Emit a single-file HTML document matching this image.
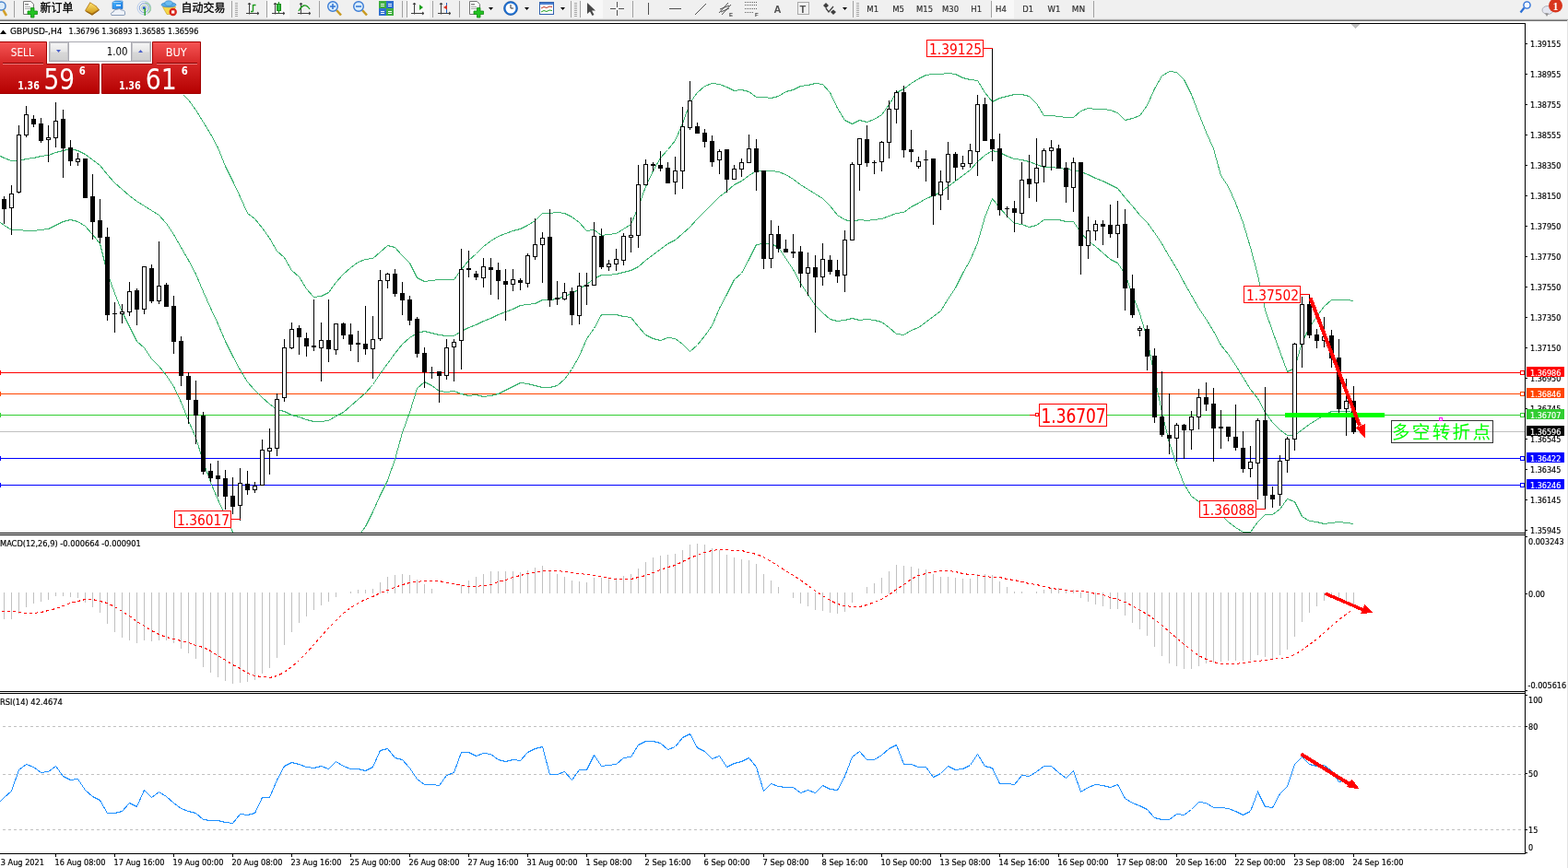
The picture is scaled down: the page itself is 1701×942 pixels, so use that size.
<!DOCTYPE html>
<html><head><meta charset="utf-8"><title>GBPUSD-,H4</title>
<style>
html,body{margin:0;padding:0;background:#fff;}
body{width:1701px;height:942px;overflow:hidden;position:relative;}
svg{position:absolute;left:0;top:0;display:block;}

</style></head><body>
<svg width="1701" height="942" viewBox="0 0 1701 942" font-family='"Liberation Sans", "Noto Sans CJK SC", sans-serif'>
<rect x="0" y="0" width="1701" height="942" fill="#fff"/>
<rect x="0" y="0" width="1701" height="20" fill="#f0f0f0"/><rect x="0" y="20" width="1701" height="1" fill="#e4e4e4"/><rect x="0" y="21" width="1701" height="1" fill="#a3a3a3"/><rect x="0" y="22" width="1701" height="1" fill="#6f6f6f"/><rect x="290" y="0" width="24" height="20" fill="#f8f8f8"/><rect x="441" y="0" width="25" height="20" fill="#f8f8f8"/><rect x="630" y="0" width="24" height="20" fill="#f8f8f8"/><rect x="1076" y="0" width="24" height="20" fill="#f8f8f8"/><rect x="15" y="1" width="1" height="18" fill="#a0a0a0"/><rect x="251" y="1" width="1" height="18" fill="#a0a0a0"/><rect x="289" y="1" width="1" height="18" fill="#a0a0a0"/><rect x="346" y="1" width="1" height="18" fill="#a0a0a0"/><rect x="436" y="1" width="1" height="18" fill="#a0a0a0"/><rect x="441" y="1" width="1" height="18" fill="#a0a0a0"/><rect x="469" y="1" width="1" height="18" fill="#a0a0a0"/><rect x="498" y="1" width="1" height="18" fill="#a0a0a0"/><rect x="619" y="1" width="1" height="18" fill="#a0a0a0"/><rect x="629" y="1" width="1" height="18" fill="#a0a0a0"/><rect x="686" y="1" width="1" height="18" fill="#a0a0a0"/><rect x="925" y="1" width="1" height="18" fill="#a0a0a0"/><rect x="1075" y="1" width="1" height="18" fill="#a0a0a0"/><rect x="1186" y="1" width="1" height="18" fill="#a0a0a0"/><rect x="255" y="3" width="3" height="1" fill="#a8a8a8"/><rect x="255" y="5" width="3" height="1" fill="#a8a8a8"/><rect x="255" y="7" width="3" height="1" fill="#a8a8a8"/><rect x="255" y="9" width="3" height="1" fill="#a8a8a8"/><rect x="255" y="11" width="3" height="1" fill="#a8a8a8"/><rect x="255" y="13" width="3" height="1" fill="#a8a8a8"/><rect x="255" y="15" width="3" height="1" fill="#a8a8a8"/><rect x="255" y="17" width="3" height="1" fill="#a8a8a8"/><rect x="623" y="3" width="3" height="1" fill="#a8a8a8"/><rect x="623" y="5" width="3" height="1" fill="#a8a8a8"/><rect x="623" y="7" width="3" height="1" fill="#a8a8a8"/><rect x="623" y="9" width="3" height="1" fill="#a8a8a8"/><rect x="623" y="11" width="3" height="1" fill="#a8a8a8"/><rect x="623" y="13" width="3" height="1" fill="#a8a8a8"/><rect x="623" y="15" width="3" height="1" fill="#a8a8a8"/><rect x="623" y="17" width="3" height="1" fill="#a8a8a8"/><rect x="929" y="3" width="3" height="1" fill="#a8a8a8"/><rect x="929" y="5" width="3" height="1" fill="#a8a8a8"/><rect x="929" y="7" width="3" height="1" fill="#a8a8a8"/><rect x="929" y="9" width="3" height="1" fill="#a8a8a8"/><rect x="929" y="11" width="3" height="1" fill="#a8a8a8"/><rect x="929" y="13" width="3" height="1" fill="#a8a8a8"/><rect x="929" y="15" width="3" height="1" fill="#a8a8a8"/><rect x="929" y="17" width="3" height="1" fill="#a8a8a8"/><circle cx="1.5" cy="6.5" r="4.5" fill="#dcecf9" stroke="#4a86cf" stroke-width="1.5"/><line x1="3.5" y1="11" x2="7" y2="17" stroke="#d2a02a" stroke-width="2.5"/><path d="M25.5 1.5 h8 l3 3 v11 h-11 z" fill="#fff" stroke="#777"/><rect x="27" y="4" width="4" height="1.5" fill="#888"/><rect x="27" y="7" width="6" height="1" fill="#aaa"/><rect x="27" y="9" width="6" height="1" fill="#aaa"/><path d="M33.5 8.5 h3.5 v3.5 h3.5 v3.5 h-3.5 v3.5 h-3.5 v-3.5 h-3.5 v-3.5 h3.5 z" fill="#22c322" stroke="#138a13" stroke-width="0.8"/><text x="43.5" y="12.5" font-family='"Noto Sans CJK SC", "WenQuanYi Zen Hei", sans-serif' font-size="12" fill="#000" stroke="#000" stroke-width="0.3">新订单</text><defs><linearGradient id="gold" x1="0" y1="0" x2="0" y2="1"><stop offset="0" stop-color="#ffe070"/><stop offset="1" stop-color="#d09a18"/></linearGradient><linearGradient id="blu" x1="0" y1="0" x2="1" y2="1"><stop offset="0" stop-color="#49b8ff"/><stop offset="1" stop-color="#1a78e0"/></linearGradient></defs><polygon points="92.2,11.3 97.6,2.2 104.4,6.5 108,10.7 100,16.8 92.8,12.6" fill="#b07818" /><polygon points="93.2,10.8 98,3.2 104,7 106.5,10.3 99.8,14.6 93.6,11.8" fill="url(#gold)"/><path d="M94 12.5 L100 16 L107.5 11" stroke="#8a5a10" stroke-width="0.8" fill="none"/><polygon points="122,2.5 125,1 133,1 133,9.5 122,9.5" fill="url(#blu)" stroke="#1565c0" stroke-width="0.6"/><rect x="126" y="5" width="5" height="1.6" fill="#e6f4ff"/><path d="M122.5 2.5 h8 l2.5 -1.5" stroke="#bfe4ff" stroke-width="0.7" fill="none"/><path d="M121 16.5 Q119.5 13.5 123 13 Q123.5 9.8 127 10.2 Q129.5 8.5 132 11 Q135.8 11 135.5 14 Q136.5 16.5 134 16.5 Z" fill="#eef2f8" stroke="#6f86a8" stroke-width="0.8"/><circle cx="156.3" cy="8.6" r="7.3" fill="none" stroke="#b8cdec" stroke-width="1"/><circle cx="156.3" cy="8.6" r="5" fill="none" stroke="#7fa0dc" stroke-width="1"/><circle cx="156.3" cy="8.6" r="2.8" fill="none" stroke="#9dc8a0" stroke-width="0.8"/><path d="M157.3 3 A6 6 0 0 1 160.5 14" stroke="#8cc890" stroke-width="1.2" fill="none"/><circle cx="156.3" cy="8.6" r="1.6" fill="#2a5fc8"/><rect x="156.5" y="9" width="1.4" height="7.8" fill="#1e9e1e"/><polygon points="176.5,7.5 190.5,7.5 186,15.5 181,15.5" fill="#f6d84a" stroke="#c49a18" stroke-width="0.6"/><ellipse cx="183" cy="5.2" rx="8" ry="2.6" fill="#58aee8" stroke="#2f7cc0" stroke-width="0.6"/><ellipse cx="183" cy="3.6" rx="4.2" ry="2.8" fill="#6cbcf0" stroke="#2f7cc0" stroke-width="0.6"/><circle cx="187.7" cy="13" r="4.2" fill="#d8261c"/><rect x="186.1" y="11.4" width="3.2" height="3.2" fill="#fff"/><text x="196.5" y="12.5" font-family='"Noto Sans CJK SC", "WenQuanYi Zen Hei", sans-serif' font-size="12" fill="#000" stroke="#000" stroke-width="0.3">自动交易</text><path d="M270.5 3 v12.5 M267 14.5 h14" stroke="#404040" stroke-width="1" fill="none"/><path d="M269 5 l1.5 -2 l1.5 2 M279 13 l2 1.5 l-2 1.5" stroke="#404040" fill="none"/><path d="M272 12.5 h2.5 M274.5 12.5 V5 M274.5 5.5 h3" stroke="#1a9a1a" stroke-width="1.4" fill="none"/><path d="M298.5 3 v12.5 M295 14.5 h14" stroke="#404040" stroke-width="1" fill="none"/><path d="M297 5 l1.5 -2 l1.5 2 M307 13 l2 1.5 l-2 1.5" stroke="#404040" fill="none"/><rect x="300.5" y="4.5" width="4" height="7" fill="#30c040" stroke="#148a14"/><path d="M302.5 2 v2 M302.5 12 v2" stroke="#148a14"/><path d="M326.5 3 v12.5 M323 14.5 h14" stroke="#404040" stroke-width="1" fill="none"/><path d="M325 5 l1.5 -2 l1.5 2 M335 13 l2 1.5 l-2 1.5" stroke="#404040" fill="none"/><path d="M324 12 Q330 1 336 10" stroke="#1a9a1a" stroke-width="1.3" fill="none"/><line x1="365" y1="11" x2="370" y2="16.5" stroke="#c89a22" stroke-width="2.6"/><circle cx="361" cy="7" r="5.3" fill="#dbeefc" stroke="#3a7bd5" stroke-width="1.4"/><rect x="358" y="6.2" width="6" height="1.6" fill="#3a7bd5"/><rect x="360.2" y="4" width="1.6" height="6" fill="#3a7bd5"/><line x1="393" y1="11" x2="398" y2="16.5" stroke="#c89a22" stroke-width="2.6"/><circle cx="389" cy="7" r="5.3" fill="#dbeefc" stroke="#3a7bd5" stroke-width="1.4"/><rect x="386" y="6.2" width="6" height="1.6" fill="#3a7bd5"/><rect x="411" y="1" width="8" height="8" fill="#3fae3f"/><rect x="413" y="4" width="4" height="1" fill="#fff"/><rect x="413" y="6" width="4" height="1" fill="#fff"/><rect x="419" y="1" width="8" height="8" fill="#2f6fd0"/><rect x="421" y="4" width="4" height="1" fill="#fff"/><rect x="421" y="6" width="4" height="1" fill="#fff"/><rect x="411" y="9" width="8" height="8" fill="#2f6fd0"/><rect x="413" y="12" width="4" height="1" fill="#fff"/><rect x="413" y="14" width="4" height="1" fill="#fff"/><rect x="419" y="9" width="8" height="8" fill="#3fae3f"/><rect x="421" y="12" width="4" height="1" fill="#fff"/><rect x="421" y="14" width="4" height="1" fill="#fff"/><path d="M449.5 3 v12.5 M446 14.5 h14" stroke="#404040" stroke-width="1" fill="none"/><path d="M448 5 l1.5 -2 l1.5 2 M458 13 l2 1.5 l-2 1.5" stroke="#404040" fill="none"/><polygon points="455,5 455,11 459,8" fill="#1aa01a"/><path d="M478.5 3 v12.5 M475 14.5 h14" stroke="#404040" stroke-width="1" fill="none"/><path d="M477 5 l1.5 -2 l1.5 2 M487 13 l2 1.5 l-2 1.5" stroke="#404040" fill="none"/><rect x="484" y="3" width="1" height="11" fill="#2060c0"/><polygon points="481,8 485,5.5 485,10.5" fill="#d83020"/><path d="M509.5 1.5 h8 l3 3 v11 h-11 z" fill="#fff" stroke="#777"/><rect x="511" y="4" width="4" height="1.5" fill="#888"/><rect x="511" y="7" width="6" height="1" fill="#aaa"/><rect x="511" y="9" width="6" height="1" fill="#aaa"/><path d="M517.5 8.5 h3.5 v3.5 h3.5 v3.5 h-3.5 v3.5 h-3.5 v-3.5 h-3.5 v-3.5 h3.5 z" fill="#22c322" stroke="#138a13" stroke-width="0.8"/><polygon points="530.0,8 535.0,8 532.5,11" fill="#000"/><polygon points="569.0,8 574.0,8 571.5,11" fill="#000"/><polygon points="608.0,8 613.0,8 610.5,11" fill="#000"/><polygon points="914.0,8 919.0,8 916.5,11" fill="#000"/><circle cx="554" cy="9" r="7.5" fill="#1d6fd2" stroke="#124a90" stroke-width="0.6"/><circle cx="554" cy="9" r="5.5" fill="#fff"/><path d="M554 5 v4 h3" stroke="#333" fill="none"/><rect x="585.5" y="2.5" width="15" height="13" fill="#fff" stroke="#2f5fae"/><rect x="586" y="3" width="14" height="2" fill="#4a7fd0"/><path d="M587 9 l3 -1.5 l3 1 l3 -1.5 l3 0.5" stroke="#c03020" fill="none"/><path d="M587 13 l3 -1.5 l3 1 l3 -1.5 l3 0.5" stroke="#20a020" fill="none"/><polygon points="637,3 637,15 640,12.5 642.5,17 644.5,16 642,11.5 646,11.5" fill="#4a4a4a"/><path d="M662 9.5 h6 M671 9.5 h6 M669.5 2 v6 M669.5 11 v6" stroke="#505050" stroke-width="1"/><path d="M703.5 3 v13 M726 9.5 h13 M754 16 L766 4" stroke="#505050" stroke-width="1" fill="none"/><path d="M780 14 L790 3 M783 16 L793 5 M781 10 l10 -4 M782 13 l9 -4" stroke="#505050" fill="none"/><text x="791" y="18" font-family='"Liberation Sans",sans-serif' font-size="6" font-weight="bold" fill="#404040">E</text><path d="M808 2.5 h14 M808 5.5 h14 M808 9.5 h14 M808 13.5 h10" stroke="#606060" stroke-dasharray="1 1" fill="none"/><text x="819" y="18" font-family='"Liberation Sans",sans-serif' font-size="6" font-weight="bold" fill="#404040">F</text><text x="839.5" y="14" font-family='"Liberation Sans",sans-serif' font-size="11" font-weight="bold" fill="#505050">A</text><rect x="865.5" y="2.5" width="12" height="13" fill="none" stroke="#606060" stroke-dasharray="1 1"/><text x="867.5" y="13.5" font-family='"Liberation Sans",sans-serif' font-size="11" font-weight="bold" fill="#505050">T</text><polygon points="893,6 896,3 899,6 896,9" fill="#404040"/><path d="M896 9 l3 4 l5 -6" stroke="#404040" stroke-width="1.3" fill="none"/><polygon points="901,13 904,10.5 907,13 904,16" fill="#404040"/><text x="940.3" y="13" font-family='"DejaVu Sans Condensed", "DejaVu Sans", "Liberation Sans", sans-serif' font-size="9.4" fill="#303030" textLength="12.8" lengthAdjust="spacingAndGlyphs" stroke="#303030" stroke-width="0.18" >M1</text><text x="968.2" y="13" font-family='"DejaVu Sans Condensed", "DejaVu Sans", "Liberation Sans", sans-serif' font-size="9.4" fill="#303030" textLength="12.8" lengthAdjust="spacingAndGlyphs" stroke="#303030" stroke-width="0.18" >M5</text><text x="994.1" y="13" font-family='"DejaVu Sans Condensed", "DejaVu Sans", "Liberation Sans", sans-serif' font-size="9.4" fill="#303030" textLength="18.0" lengthAdjust="spacingAndGlyphs" stroke="#303030" stroke-width="0.18" >M15</text><text x="1022.0" y="13" font-family='"DejaVu Sans Condensed", "DejaVu Sans", "Liberation Sans", sans-serif' font-size="9.4" fill="#303030" textLength="18.0" lengthAdjust="spacingAndGlyphs" stroke="#303030" stroke-width="0.18" >M30</text><text x="1053.3" y="13" font-family='"DejaVu Sans Condensed", "DejaVu Sans", "Liberation Sans", sans-serif' font-size="9.4" fill="#303030" textLength="11.8" lengthAdjust="spacingAndGlyphs" stroke="#303030" stroke-width="0.18" >H1</text><text x="1080.0" y="13" font-family='"DejaVu Sans Condensed", "DejaVu Sans", "Liberation Sans", sans-serif' font-size="9.4" fill="#303030" textLength="11.8" lengthAdjust="spacingAndGlyphs" stroke="#303030" stroke-width="0.18" >H4</text><text x="1109.3" y="13" font-family='"DejaVu Sans Condensed", "DejaVu Sans", "Liberation Sans", sans-serif' font-size="9.4" fill="#303030" textLength="11.8" lengthAdjust="spacingAndGlyphs" stroke="#303030" stroke-width="0.18" >D1</text><text x="1136.5" y="13" font-family='"DejaVu Sans Condensed", "DejaVu Sans", "Liberation Sans", sans-serif' font-size="9.4" fill="#303030" textLength="13.9" lengthAdjust="spacingAndGlyphs" stroke="#303030" stroke-width="0.18" >W1</text><text x="1162.8" y="13" font-family='"DejaVu Sans Condensed", "DejaVu Sans", "Liberation Sans", sans-serif' font-size="9.4" fill="#303030" textLength="14.4" lengthAdjust="spacingAndGlyphs" stroke="#303030" stroke-width="0.18" >MN</text><circle cx="1656.5" cy="5.5" r="3.6" fill="#f4f8ff" stroke="#2b6fd6" stroke-width="1.4"/><line x1="1653.5" y1="8.5" x2="1649.5" y2="13.5" stroke="#2b6fd6" stroke-width="2.2"/><ellipse cx="1679" cy="11" rx="6" ry="4.5" fill="#e4e6f0" stroke="#a0a0a8" stroke-width="0.8"/><polygon points="1676,14 1678,18 1680,14.5" fill="#909090"/><circle cx="1687.5" cy="6" r="7.5" fill="#d8361e"/><text x="1687.5" y="10.5" text-anchor="middle" font-family='"Liberation Serif",serif' font-size="12" font-weight="bold" fill="#fff">1</text>
<defs><clipPath id="cm"><rect x="0" y="26" width="1654" height="552"/></clipPath><clipPath id="cmacd"><rect x="0" y="581" width="1654" height="169"/></clipPath><clipPath id="crsi"><rect x="0" y="753" width="1654" height="173"/></clipPath></defs><g clip-path="url(#cm)" shape-rendering="crispEdges"><rect x="0" y="404" width="1654" height="1" fill="#ff0000"/><rect x="0" y="402" width="1" height="5" fill="#ff0000"/><rect x="0" y="427" width="1654" height="1" fill="#ff4500"/><rect x="0" y="425" width="1" height="5" fill="#ff4500"/><rect x="0" y="450" width="1654" height="1" fill="#32cd32"/><rect x="0" y="448" width="1" height="5" fill="#32cd32"/><rect x="0" y="497" width="1654" height="1" fill="#0000ff"/><rect x="0" y="495" width="1" height="5" fill="#0000ff"/><rect x="0" y="526" width="1654" height="1" fill="#0000ff"/><rect x="0" y="524" width="1" height="5" fill="#0000ff"/><rect x="0" y="468" width="1654" height="1" fill="#c0c0c0"/><polyline points="-3.5,95.5 4.5,98.5 12.5,100.5 20.5,99.5 28.5,95.5 36.5,91.5 44.5,89.5 52.5,87.5 60.5,86.5 68.5,85.5 76.5,84.5 84.5,86.5 92.5,90.5 100.5,92.5 108.5,94.5 116.5,82.5 124.5,78.5 132.5,72.5 140.5,69.5 148.5,67.5 156.5,68.5 164.5,67.5 172.5,68.5 180.5,77.5 188.5,89.5 196.5,100.5 204.5,108.5 212.5,119.5 220.5,132.5 228.5,145.5 236.5,160.5 244.5,180.5 252.5,196.5 260.5,213.5 268.5,231.5 276.5,237.5 284.5,247.5 292.5,258.5 300.5,272.5 308.5,279.5 316.5,293.5 324.5,300.5 332.5,313.5 340.5,322.5 348.5,321.5 356.5,317.5 364.5,306.5 372.5,297.5 380.5,290.5 388.5,284.5 396.5,281.5 404.5,280.5 412.5,273.5 420.5,266.5 428.5,268.5 436.5,277.5 444.5,285.5 452.5,301.5 460.5,305.5 468.5,304.5 476.5,303.5 484.5,303.5 492.5,303.5 500.5,292.5 508.5,282.5 516.5,275.5 524.5,267.5 532.5,261.5 540.5,256.5 548.5,253.5 556.5,250.5 564.5,248.5 572.5,244.5 580.5,239.5 588.5,231.5 596.5,231.5 604.5,230.5 612.5,231.5 620.5,235.5 628.5,241.5 636.5,250.5 644.5,249.5 652.5,255.5 660.5,254.5 668.5,253.5 676.5,248.5 684.5,243.5 692.5,224.5 700.5,202.5 708.5,185.5 716.5,171.5 724.5,162.5 732.5,152.5 740.5,134.5 748.5,111.5 756.5,100.5 764.5,93.5 772.5,90.5 780.5,91.5 788.5,94.5 796.5,98.5 804.5,97.5 812.5,99.5 820.5,105.5 828.5,105.5 836.5,106.5 844.5,104.5 852.5,99.5 860.5,97.5 868.5,93.5 876.5,92.5 884.5,90.5 892.5,91.5 900.5,100.5 908.5,117.5 916.5,130.5 924.5,134.5 932.5,130.5 940.5,132.5 948.5,129.5 956.5,124.5 964.5,113.5 972.5,100.5 980.5,96.5 988.5,90.5 996.5,85.5 1004.5,81.5 1012.5,80.5 1020.5,80.5 1028.5,79.5 1036.5,80.5 1044.5,84.5 1052.5,86.5 1060.5,87.5 1068.5,100.5 1076.5,110.5 1084.5,106.5 1092.5,104.5 1100.5,102.5 1108.5,102.5 1116.5,104.5 1124.5,112.5 1132.5,125.5 1140.5,125.5 1148.5,126.5 1156.5,127.5 1164.5,127.5 1172.5,120.5 1180.5,117.5 1188.5,118.5 1196.5,118.5 1204.5,119.5 1212.5,122.5 1220.5,130.5 1228.5,128.5 1236.5,125.5 1244.5,114.5 1252.5,96.5 1260.5,82.5 1268.5,77.5 1276.5,78.5 1284.5,86.5 1292.5,102.5 1300.5,123.5 1308.5,143.5 1316.5,161.5 1324.5,190.5 1332.5,202.5 1340.5,220.5 1348.5,241.5 1356.5,268.5 1364.5,298.5 1372.5,336.5 1380.5,359.5 1388.5,381.5 1396.5,403.5 1404.5,399.5 1412.5,371.5 1420.5,355.5 1428.5,343.5 1436.5,332.5 1444.5,325.5 1452.5,325.5 1460.5,325.5 1468.5,326.5" fill="none" stroke="#3cb371" stroke-width="1" /><polyline points="-3.5,167.5 4.5,171.5 12.5,174.5 20.5,174.5 28.5,172.5 36.5,171.5 44.5,169.5 52.5,168.5 60.5,165.5 68.5,163.5 76.5,161.5 84.5,163.5 92.5,167.5 100.5,173.5 108.5,179.5 116.5,189.5 124.5,198.5 132.5,205.5 140.5,212.5 148.5,218.5 156.5,223.5 164.5,228.5 172.5,233.5 180.5,242.5 188.5,254.5 196.5,268.5 204.5,282.5 212.5,297.5 220.5,316.5 228.5,334.5 236.5,351.5 244.5,370.5 252.5,386.5 260.5,401.5 268.5,414.5 276.5,423.5 284.5,431.5 292.5,438.5 300.5,444.5 308.5,446.5 316.5,450.5 324.5,452.5 332.5,455.5 340.5,457.5 348.5,457.5 356.5,456.5 364.5,451.5 372.5,447.5 380.5,440.5 388.5,433.5 396.5,426.5 404.5,417.5 412.5,405.5 420.5,394.5 428.5,383.5 436.5,373.5 444.5,366.5 452.5,361.5 460.5,359.5 468.5,361.5 476.5,363.5 484.5,364.5 492.5,364.5 500.5,359.5 508.5,355.5 516.5,352.5 524.5,348.5 532.5,345.5 540.5,341.5 548.5,338.5 556.5,335.5 564.5,331.5 572.5,330.5 580.5,329.5 588.5,325.5 596.5,325.5 604.5,324.5 612.5,321.5 620.5,318.5 628.5,313.5 636.5,308.5 644.5,302.5 652.5,298.5 660.5,298.5 668.5,297.5 676.5,295.5 684.5,293.5 692.5,289.5 700.5,282.5 708.5,276.5 716.5,270.5 724.5,264.5 732.5,260.5 740.5,253.5 748.5,246.5 756.5,237.5 764.5,229.5 772.5,221.5 780.5,213.5 788.5,207.5 796.5,200.5 804.5,196.5 812.5,190.5 820.5,185.5 828.5,185.5 836.5,185.5 844.5,186.5 852.5,189.5 860.5,194.5 868.5,200.5 876.5,205.5 884.5,210.5 892.5,215.5 900.5,223.5 908.5,233.5 916.5,238.5 924.5,240.5 932.5,238.5 940.5,239.5 948.5,238.5 956.5,237.5 964.5,234.5 972.5,231.5 980.5,230.5 988.5,224.5 996.5,220.5 1004.5,215.5 1012.5,212.5 1020.5,208.5 1028.5,202.5 1036.5,196.5 1044.5,190.5 1052.5,184.5 1060.5,175.5 1068.5,168.5 1076.5,163.5 1084.5,165.5 1092.5,169.5 1100.5,172.5 1108.5,173.5 1116.5,175.5 1124.5,178.5 1132.5,181.5 1140.5,181.5 1148.5,182.5 1156.5,183.5 1164.5,184.5 1172.5,186.5 1180.5,189.5 1188.5,193.5 1196.5,196.5 1204.5,200.5 1212.5,204.5 1220.5,214.5 1228.5,223.5 1236.5,233.5 1244.5,241.5 1252.5,252.5 1260.5,264.5 1268.5,278.5 1276.5,291.5 1284.5,306.5 1292.5,320.5 1300.5,334.5 1308.5,346.5 1316.5,359.5 1324.5,374.5 1332.5,384.5 1340.5,396.5 1348.5,409.5 1356.5,422.5 1364.5,432.5 1372.5,447.5 1380.5,458.5 1388.5,466.5 1396.5,472.5 1404.5,472.5 1412.5,466.5 1420.5,460.5 1428.5,455.5 1436.5,450.5 1444.5,446.5 1452.5,446.5 1460.5,446.5 1468.5,447.5" fill="none" stroke="#3cb371" stroke-width="1" /><polyline points="-3.5,238.5 4.5,244.5 12.5,249.5 20.5,249.5 28.5,250.5 36.5,250.5 44.5,249.5 52.5,248.5 60.5,244.5 68.5,240.5 76.5,238.5 84.5,240.5 92.5,245.5 100.5,254.5 108.5,264.5 116.5,296.5 124.5,318.5 132.5,338.5 140.5,354.5 148.5,370.5 156.5,377.5 164.5,389.5 172.5,397.5 180.5,407.5 188.5,419.5 196.5,436.5 204.5,456.5 212.5,475.5 220.5,500.5 228.5,523.5 236.5,542.5 244.5,559.5 252.5,577.5 260.5,588.5 268.5,597.5 276.5,610.5 284.5,615.5 292.5,619.5 300.5,616.5 308.5,614.5 316.5,607.5 324.5,603.5 332.5,597.5 340.5,592.5 348.5,593.5 356.5,594.5 364.5,597.5 372.5,597.5 380.5,591.5 388.5,582.5 396.5,571.5 404.5,555.5 412.5,537.5 420.5,521.5 428.5,498.5 436.5,469.5 444.5,447.5 452.5,421.5 460.5,414.5 468.5,418.5 476.5,424.5 484.5,425.5 492.5,424.5 500.5,427.5 508.5,429.5 516.5,428.5 524.5,430.5 532.5,429.5 540.5,427.5 548.5,423.5 556.5,419.5 564.5,415.5 572.5,416.5 580.5,418.5 588.5,420.5 596.5,420.5 604.5,418.5 612.5,411.5 620.5,400.5 628.5,386.5 636.5,367.5 644.5,356.5 652.5,341.5 660.5,341.5 668.5,341.5 676.5,343.5 684.5,344.5 692.5,354.5 700.5,363.5 708.5,367.5 716.5,369.5 724.5,366.5 732.5,367.5 740.5,373.5 748.5,381.5 756.5,374.5 764.5,364.5 772.5,353.5 780.5,334.5 788.5,319.5 796.5,303.5 804.5,296.5 812.5,281.5 820.5,265.5 828.5,264.5 836.5,264.5 844.5,268.5 852.5,280.5 860.5,292.5 868.5,307.5 876.5,319.5 884.5,331.5 892.5,339.5 900.5,346.5 908.5,348.5 916.5,347.5 924.5,345.5 932.5,347.5 940.5,346.5 948.5,347.5 956.5,349.5 964.5,355.5 972.5,362.5 980.5,363.5 988.5,358.5 996.5,355.5 1004.5,349.5 1012.5,343.5 1020.5,337.5 1028.5,324.5 1036.5,312.5 1044.5,296.5 1052.5,282.5 1060.5,263.5 1068.5,235.5 1076.5,215.5 1084.5,225.5 1092.5,234.5 1100.5,242.5 1108.5,243.5 1116.5,246.5 1124.5,244.5 1132.5,238.5 1140.5,238.5 1148.5,238.5 1156.5,240.5 1164.5,240.5 1172.5,252.5 1180.5,261.5 1188.5,267.5 1196.5,274.5 1204.5,281.5 1212.5,285.5 1220.5,297.5 1228.5,319.5 1236.5,340.5 1244.5,367.5 1252.5,408.5 1260.5,447.5 1268.5,480.5 1276.5,504.5 1284.5,525.5 1292.5,538.5 1300.5,544.5 1308.5,550.5 1316.5,558.5 1324.5,558.5 1332.5,566.5 1340.5,572.5 1348.5,577.5 1356.5,577.5 1364.5,566.5 1372.5,558.5 1380.5,558.5 1388.5,552.5 1396.5,541.5 1404.5,544.5 1412.5,560.5 1420.5,565.5 1428.5,566.5 1436.5,568.5 1444.5,567.5 1452.5,566.5 1460.5,567.5 1468.5,568.5" fill="none" stroke="#3cb371" stroke-width="1" /><rect x="4" y="213" width="1" height="30" fill="#000"/><rect x="2" y="216" width="5" height="11" fill="#000"/><rect x="12" y="201" width="1" height="54" fill="#000"/><rect x="10.5" y="210.5" width="4" height="15" fill="#fff" stroke="#000" stroke-width="1"/><rect x="20" y="136" width="1" height="74" fill="#000"/><rect x="18.5" y="146.5" width="4" height="62" fill="#fff" stroke="#000" stroke-width="1"/><rect x="28" y="115" width="1" height="34" fill="#000"/><rect x="26.5" y="124.5" width="4" height="22" fill="#fff" stroke="#000" stroke-width="1"/><rect x="36" y="125" width="1" height="13" fill="#000"/><rect x="34" y="129" width="5" height="6" fill="#000"/><rect x="44" y="128" width="1" height="27" fill="#000"/><rect x="42" y="134" width="5" height="19" fill="#000"/><rect x="52" y="136" width="1" height="40" fill="#000"/><rect x="50.5" y="149.5" width="4" height="2" fill="#fff" stroke="#000" stroke-width="1"/><rect x="60" y="111" width="1" height="49" fill="#000"/><rect x="58.5" y="131.5" width="4" height="18" fill="#fff" stroke="#000" stroke-width="1"/><rect x="68" y="119" width="1" height="74" fill="#000"/><rect x="66" y="129" width="5" height="32" fill="#000"/><rect x="76" y="152" width="1" height="28" fill="#000"/><rect x="74" y="160" width="5" height="15" fill="#000"/><rect x="84" y="166" width="1" height="14" fill="#000"/><rect x="82.5" y="172.5" width="4" height="3" fill="#fff" stroke="#000" stroke-width="1"/><rect x="92" y="172" width="1" height="43" fill="#000"/><rect x="90" y="172" width="5" height="43" fill="#000"/><rect x="100" y="189" width="1" height="71" fill="#000"/><rect x="98" y="213" width="5" height="28" fill="#000"/><rect x="108" y="216" width="1" height="48" fill="#000"/><rect x="106" y="239" width="5" height="19" fill="#000"/><rect x="116" y="247" width="1" height="101" fill="#000"/><rect x="114" y="257" width="5" height="85" fill="#000"/><rect x="124" y="328" width="1" height="33" fill="#000"/><rect x="122" y="340" width="5" height="1" fill="#000"/><rect x="132" y="330" width="1" height="21" fill="#000"/><rect x="130.5" y="338.5" width="4" height="2" fill="#fff" stroke="#000" stroke-width="1"/><rect x="140" y="306" width="1" height="37" fill="#000"/><rect x="138.5" y="316.5" width="4" height="22" fill="#fff" stroke="#000" stroke-width="1"/><rect x="148" y="313" width="1" height="40" fill="#000"/><rect x="146" y="315" width="5" height="21" fill="#000"/><rect x="156" y="289" width="1" height="52" fill="#000"/><rect x="154.5" y="289.5" width="4" height="46" fill="#fff" stroke="#000" stroke-width="1"/><rect x="164" y="287" width="1" height="42" fill="#000"/><rect x="162" y="291" width="5" height="36" fill="#000"/><rect x="172" y="262" width="1" height="68" fill="#000"/><rect x="170.5" y="310.5" width="4" height="16" fill="#fff" stroke="#000" stroke-width="1"/><rect x="180" y="307" width="1" height="26" fill="#000"/><rect x="178" y="309" width="5" height="24" fill="#000"/><rect x="188" y="321" width="1" height="63" fill="#000"/><rect x="186" y="332" width="5" height="39" fill="#000"/><rect x="196" y="365" width="1" height="54" fill="#000"/><rect x="194" y="370" width="5" height="38" fill="#000"/><rect x="204" y="404" width="1" height="56" fill="#000"/><rect x="202" y="408" width="5" height="26" fill="#000"/><rect x="212" y="413" width="1" height="69" fill="#000"/><rect x="210" y="434" width="5" height="17" fill="#000"/><rect x="220" y="447" width="1" height="68" fill="#000"/><rect x="218" y="451" width="5" height="61" fill="#000"/><rect x="228" y="503" width="1" height="20" fill="#000"/><rect x="226" y="511" width="5" height="8" fill="#000"/><rect x="236" y="500" width="1" height="39" fill="#000"/><rect x="234" y="516" width="5" height="4" fill="#000"/><rect x="244" y="510" width="1" height="43" fill="#000"/><rect x="242" y="519" width="5" height="20" fill="#000"/><rect x="252" y="518" width="1" height="40" fill="#000"/><rect x="250" y="538" width="5" height="12" fill="#000"/><rect x="260" y="508" width="1" height="57" fill="#000"/><rect x="258.5" y="524.5" width="4" height="24" fill="#fff" stroke="#000" stroke-width="1"/><rect x="268" y="511" width="1" height="26" fill="#000"/><rect x="266" y="525" width="5" height="7" fill="#000"/><rect x="276" y="523" width="1" height="12" fill="#000"/><rect x="274.5" y="527.5" width="4" height="4" fill="#fff" stroke="#000" stroke-width="1"/><rect x="284" y="477" width="1" height="50" fill="#000"/><rect x="282.5" y="488.5" width="4" height="38" fill="#fff" stroke="#000" stroke-width="1"/><rect x="292" y="465" width="1" height="50" fill="#000"/><rect x="290.5" y="486.5" width="4" height="3" fill="#fff" stroke="#000" stroke-width="1"/><rect x="300" y="427" width="1" height="68" fill="#000"/><rect x="298.5" y="433.5" width="4" height="53" fill="#fff" stroke="#000" stroke-width="1"/><rect x="308" y="368" width="1" height="68" fill="#000"/><rect x="306.5" y="377.5" width="4" height="54" fill="#fff" stroke="#000" stroke-width="1"/><rect x="316" y="350" width="1" height="29" fill="#000"/><rect x="314.5" y="357.5" width="4" height="20" fill="#fff" stroke="#000" stroke-width="1"/><rect x="324" y="353" width="1" height="32" fill="#000"/><rect x="322" y="356" width="5" height="10" fill="#000"/><rect x="332" y="361" width="1" height="26" fill="#000"/><rect x="330" y="367" width="5" height="9" fill="#000"/><rect x="340" y="325" width="1" height="56" fill="#000"/><rect x="338" y="375" width="5" height="2" fill="#000"/><rect x="348" y="350" width="1" height="64" fill="#000"/><rect x="346.5" y="369.5" width="4" height="8" fill="#fff" stroke="#000" stroke-width="1"/><rect x="356" y="325" width="1" height="68" fill="#000"/><rect x="354" y="369" width="5" height="10" fill="#000"/><rect x="364" y="351" width="1" height="34" fill="#000"/><rect x="362.5" y="351.5" width="4" height="28" fill="#fff" stroke="#000" stroke-width="1"/><rect x="372" y="350" width="1" height="18" fill="#000"/><rect x="370" y="351" width="5" height="13" fill="#000"/><rect x="380" y="351" width="1" height="30" fill="#000"/><rect x="378" y="363" width="5" height="11" fill="#000"/><rect x="388" y="359" width="1" height="34" fill="#000"/><rect x="386" y="372" width="5" height="2" fill="#000"/><rect x="396" y="332" width="1" height="53" fill="#000"/><rect x="394" y="373" width="5" height="6" fill="#000"/><rect x="404" y="343" width="1" height="68" fill="#000"/><rect x="402.5" y="368.5" width="4" height="10" fill="#fff" stroke="#000" stroke-width="1"/><rect x="412" y="293" width="1" height="77" fill="#000"/><rect x="410.5" y="304.5" width="4" height="63" fill="#fff" stroke="#000" stroke-width="1"/><rect x="420" y="296" width="1" height="17" fill="#000"/><rect x="418.5" y="297.5" width="4" height="7" fill="#fff" stroke="#000" stroke-width="1"/><rect x="428" y="292" width="1" height="30" fill="#000"/><rect x="426" y="297" width="5" height="22" fill="#000"/><rect x="436" y="306" width="1" height="36" fill="#000"/><rect x="434" y="318" width="5" height="8" fill="#000"/><rect x="444" y="321" width="1" height="32" fill="#000"/><rect x="442" y="325" width="5" height="23" fill="#000"/><rect x="452" y="344" width="1" height="44" fill="#000"/><rect x="450" y="346" width="5" height="38" fill="#000"/><rect x="460" y="377" width="1" height="44" fill="#000"/><rect x="458" y="383" width="5" height="21" fill="#000"/><rect x="468" y="398" width="1" height="13" fill="#000"/><rect x="466" y="404" width="5" height="1" fill="#000"/><rect x="476" y="403" width="1" height="34" fill="#000"/><rect x="474" y="403" width="5" height="5" fill="#000"/><rect x="484" y="368" width="1" height="44" fill="#000"/><rect x="482.5" y="377.5" width="4" height="30" fill="#fff" stroke="#000" stroke-width="1"/><rect x="492" y="368" width="1" height="46" fill="#000"/><rect x="490.5" y="371.5" width="4" height="5" fill="#fff" stroke="#000" stroke-width="1"/><rect x="500" y="270" width="1" height="131" fill="#000"/><rect x="498.5" y="292.5" width="4" height="77" fill="#fff" stroke="#000" stroke-width="1"/><rect x="508" y="272" width="1" height="29" fill="#000"/><rect x="506" y="291" width="5" height="2" fill="#000"/><rect x="516" y="294" width="1" height="10" fill="#000"/><rect x="514" y="297" width="5" height="4" fill="#000"/><rect x="524" y="280" width="1" height="32" fill="#000"/><rect x="522.5" y="289.5" width="4" height="12" fill="#fff" stroke="#000" stroke-width="1"/><rect x="532" y="280" width="1" height="40" fill="#000"/><rect x="530" y="290" width="5" height="3" fill="#000"/><rect x="540" y="285" width="1" height="40" fill="#000"/><rect x="538" y="293" width="5" height="12" fill="#000"/><rect x="548" y="292" width="1" height="56" fill="#000"/><rect x="546" y="305" width="5" height="4" fill="#000"/><rect x="556" y="292" width="1" height="24" fill="#000"/><rect x="554.5" y="303.5" width="4" height="5" fill="#fff" stroke="#000" stroke-width="1"/><rect x="564" y="302" width="1" height="13" fill="#000"/><rect x="562" y="304" width="5" height="3" fill="#000"/><rect x="572" y="275" width="1" height="37" fill="#000"/><rect x="570.5" y="277.5" width="4" height="30" fill="#fff" stroke="#000" stroke-width="1"/><rect x="580" y="237" width="1" height="45" fill="#000"/><rect x="578.5" y="265.5" width="4" height="13" fill="#fff" stroke="#000" stroke-width="1"/><rect x="588" y="252" width="1" height="55" fill="#000"/><rect x="586.5" y="258.5" width="4" height="7" fill="#fff" stroke="#000" stroke-width="1"/><rect x="596" y="227" width="1" height="106" fill="#000"/><rect x="594" y="257" width="5" height="69" fill="#000"/><rect x="604" y="305" width="1" height="26" fill="#000"/><rect x="602" y="323" width="5" height="2" fill="#000"/><rect x="612" y="307" width="1" height="19" fill="#000"/><rect x="610.5" y="317.5" width="4" height="7" fill="#fff" stroke="#000" stroke-width="1"/><rect x="620" y="312" width="1" height="41" fill="#000"/><rect x="618" y="316" width="5" height="26" fill="#000"/><rect x="628" y="296" width="1" height="56" fill="#000"/><rect x="626.5" y="310.5" width="4" height="32" fill="#fff" stroke="#000" stroke-width="1"/><rect x="636" y="296" width="1" height="35" fill="#000"/><rect x="634" y="309" width="5" height="2" fill="#000"/><rect x="644" y="241" width="1" height="69" fill="#000"/><rect x="642.5" y="256.5" width="4" height="53" fill="#fff" stroke="#000" stroke-width="1"/><rect x="652" y="248" width="1" height="44" fill="#000"/><rect x="650" y="256" width="5" height="34" fill="#000"/><rect x="660" y="282" width="1" height="12" fill="#000"/><rect x="658.5" y="286.5" width="4" height="3" fill="#fff" stroke="#000" stroke-width="1"/><rect x="668" y="270" width="1" height="24" fill="#000"/><rect x="666.5" y="281.5" width="4" height="5" fill="#fff" stroke="#000" stroke-width="1"/><rect x="676" y="253" width="1" height="35" fill="#000"/><rect x="674.5" y="256.5" width="4" height="26" fill="#fff" stroke="#000" stroke-width="1"/><rect x="684" y="236" width="1" height="38" fill="#000"/><rect x="682.5" y="255.5" width="4" height="2" fill="#fff" stroke="#000" stroke-width="1"/><rect x="692" y="179" width="1" height="90" fill="#000"/><rect x="690.5" y="200.5" width="4" height="55" fill="#fff" stroke="#000" stroke-width="1"/><rect x="700" y="173" width="1" height="28" fill="#000"/><rect x="698.5" y="178.5" width="4" height="22" fill="#fff" stroke="#000" stroke-width="1"/><rect x="708" y="176" width="1" height="10" fill="#000"/><rect x="706" y="178" width="5" height="2" fill="#000"/><rect x="716" y="164" width="1" height="22" fill="#000"/><rect x="714" y="179" width="5" height="4" fill="#000"/><rect x="724" y="176" width="1" height="23" fill="#000"/><rect x="722" y="182" width="5" height="17" fill="#000"/><rect x="732" y="170" width="1" height="41" fill="#000"/><rect x="730.5" y="185.5" width="4" height="12" fill="#fff" stroke="#000" stroke-width="1"/><rect x="740" y="116" width="1" height="89" fill="#000"/><rect x="738.5" y="137.5" width="4" height="48" fill="#fff" stroke="#000" stroke-width="1"/><rect x="748" y="88" width="1" height="53" fill="#000"/><rect x="746.5" y="109.5" width="4" height="29" fill="#fff" stroke="#000" stroke-width="1"/><rect x="756" y="133" width="1" height="12" fill="#000"/><rect x="754" y="137" width="5" height="8" fill="#000"/><rect x="764" y="140" width="1" height="20" fill="#000"/><rect x="762" y="144" width="5" height="10" fill="#000"/><rect x="772" y="147" width="1" height="34" fill="#000"/><rect x="770" y="153" width="5" height="23" fill="#000"/><rect x="780" y="162" width="1" height="27" fill="#000"/><rect x="778.5" y="164.5" width="4" height="9" fill="#fff" stroke="#000" stroke-width="1"/><rect x="788" y="162" width="1" height="47" fill="#000"/><rect x="786" y="162" width="5" height="33" fill="#000"/><rect x="796" y="179" width="1" height="16" fill="#000"/><rect x="794.5" y="183.5" width="4" height="11" fill="#fff" stroke="#000" stroke-width="1"/><rect x="804" y="172" width="1" height="20" fill="#000"/><rect x="802.5" y="176.5" width="4" height="7" fill="#fff" stroke="#000" stroke-width="1"/><rect x="812" y="146" width="1" height="31" fill="#000"/><rect x="810.5" y="161.5" width="4" height="15" fill="#fff" stroke="#000" stroke-width="1"/><rect x="820" y="151" width="1" height="56" fill="#000"/><rect x="818" y="161" width="5" height="26" fill="#000"/><rect x="828" y="185" width="1" height="107" fill="#000"/><rect x="826" y="185" width="5" height="96" fill="#000"/><rect x="836" y="239" width="1" height="52" fill="#000"/><rect x="834.5" y="254.5" width="4" height="26" fill="#fff" stroke="#000" stroke-width="1"/><rect x="844" y="245" width="1" height="29" fill="#000"/><rect x="842" y="254" width="5" height="16" fill="#000"/><rect x="852" y="260" width="1" height="14" fill="#000"/><rect x="850" y="270" width="5" height="4" fill="#000"/><rect x="860" y="254" width="1" height="26" fill="#000"/><rect x="858" y="273" width="5" height="2" fill="#000"/><rect x="868" y="267" width="1" height="45" fill="#000"/><rect x="866" y="273" width="5" height="24" fill="#000"/><rect x="876" y="274" width="1" height="47" fill="#000"/><rect x="874.5" y="290.5" width="4" height="6" fill="#fff" stroke="#000" stroke-width="1"/><rect x="884" y="277" width="1" height="84" fill="#000"/><rect x="882" y="290" width="5" height="11" fill="#000"/><rect x="892" y="264" width="1" height="46" fill="#000"/><rect x="890.5" y="281.5" width="4" height="19" fill="#fff" stroke="#000" stroke-width="1"/><rect x="900" y="277" width="1" height="21" fill="#000"/><rect x="898" y="282" width="5" height="13" fill="#000"/><rect x="908" y="282" width="1" height="25" fill="#000"/><rect x="906" y="293" width="5" height="7" fill="#000"/><rect x="916" y="250" width="1" height="67" fill="#000"/><rect x="914.5" y="260.5" width="4" height="38" fill="#fff" stroke="#000" stroke-width="1"/><rect x="924" y="176" width="1" height="85" fill="#000"/><rect x="922.5" y="178.5" width="4" height="82" fill="#fff" stroke="#000" stroke-width="1"/><rect x="932" y="150" width="1" height="57" fill="#000"/><rect x="930.5" y="150.5" width="4" height="28" fill="#fff" stroke="#000" stroke-width="1"/><rect x="940" y="136" width="1" height="45" fill="#000"/><rect x="938" y="151" width="5" height="26" fill="#000"/><rect x="948" y="174" width="1" height="15" fill="#000"/><rect x="946" y="176" width="5" height="1" fill="#000"/><rect x="956" y="153" width="1" height="33" fill="#000"/><rect x="954.5" y="154.5" width="4" height="21" fill="#fff" stroke="#000" stroke-width="1"/><rect x="964" y="109" width="1" height="63" fill="#000"/><rect x="962.5" y="118.5" width="4" height="36" fill="#fff" stroke="#000" stroke-width="1"/><rect x="972" y="98" width="1" height="36" fill="#000"/><rect x="970.5" y="100.5" width="4" height="18" fill="#fff" stroke="#000" stroke-width="1"/><rect x="980" y="93" width="1" height="78" fill="#000"/><rect x="978" y="100" width="5" height="63" fill="#000"/><rect x="988" y="141" width="1" height="35" fill="#000"/><rect x="986" y="162" width="5" height="3" fill="#000"/><rect x="996" y="170" width="1" height="13" fill="#000"/><rect x="994.5" y="175.5" width="4" height="5" fill="#fff" stroke="#000" stroke-width="1"/><rect x="1004" y="163" width="1" height="34" fill="#000"/><rect x="1002" y="173" width="5" height="1" fill="#000"/><rect x="1012" y="172" width="1" height="72" fill="#000"/><rect x="1010" y="172" width="5" height="41" fill="#000"/><rect x="1020" y="185" width="1" height="43" fill="#000"/><rect x="1018.5" y="197.5" width="4" height="14" fill="#fff" stroke="#000" stroke-width="1"/><rect x="1028" y="154" width="1" height="63" fill="#000"/><rect x="1026.5" y="167.5" width="4" height="30" fill="#fff" stroke="#000" stroke-width="1"/><rect x="1036" y="165" width="1" height="31" fill="#000"/><rect x="1034" y="167" width="5" height="15" fill="#000"/><rect x="1044" y="169" width="1" height="15" fill="#000"/><rect x="1042.5" y="177.5" width="4" height="3" fill="#fff" stroke="#000" stroke-width="1"/><rect x="1052" y="156" width="1" height="26" fill="#000"/><rect x="1050.5" y="163.5" width="4" height="14" fill="#fff" stroke="#000" stroke-width="1"/><rect x="1060" y="103" width="1" height="88" fill="#000"/><rect x="1058.5" y="113.5" width="4" height="51" fill="#fff" stroke="#000" stroke-width="1"/><rect x="1068" y="106" width="1" height="47" fill="#000"/><rect x="1066" y="113" width="5" height="40" fill="#000"/><rect x="1076" y="52" width="1" height="123" fill="#000"/><rect x="1074" y="151" width="5" height="11" fill="#000"/><rect x="1084" y="145" width="1" height="89" fill="#000"/><rect x="1082" y="161" width="5" height="67" fill="#000"/><rect x="1092" y="224" width="1" height="12" fill="#000"/><rect x="1090" y="226" width="5" height="1" fill="#000"/><rect x="1100" y="218" width="1" height="34" fill="#000"/><rect x="1098" y="226" width="5" height="5" fill="#000"/><rect x="1108" y="176" width="1" height="67" fill="#000"/><rect x="1106.5" y="195.5" width="4" height="36" fill="#fff" stroke="#000" stroke-width="1"/><rect x="1116" y="168" width="1" height="47" fill="#000"/><rect x="1114" y="194" width="5" height="6" fill="#000"/><rect x="1124" y="150" width="1" height="69" fill="#000"/><rect x="1122.5" y="182.5" width="4" height="16" fill="#fff" stroke="#000" stroke-width="1"/><rect x="1132" y="161" width="1" height="37" fill="#000"/><rect x="1130.5" y="163.5" width="4" height="17" fill="#fff" stroke="#000" stroke-width="1"/><rect x="1140" y="152" width="1" height="33" fill="#000"/><rect x="1138.5" y="160.5" width="4" height="3" fill="#fff" stroke="#000" stroke-width="1"/><rect x="1148" y="157" width="1" height="26" fill="#000"/><rect x="1146" y="161" width="5" height="22" fill="#000"/><rect x="1156" y="176" width="1" height="44" fill="#000"/><rect x="1154" y="182" width="5" height="21" fill="#000"/><rect x="1164" y="171" width="1" height="59" fill="#000"/><rect x="1162.5" y="176.5" width="4" height="27" fill="#fff" stroke="#000" stroke-width="1"/><rect x="1172" y="176" width="1" height="122" fill="#000"/><rect x="1170" y="176" width="5" height="91" fill="#000"/><rect x="1180" y="235" width="1" height="46" fill="#000"/><rect x="1178.5" y="250.5" width="4" height="16" fill="#fff" stroke="#000" stroke-width="1"/><rect x="1188" y="239" width="1" height="22" fill="#000"/><rect x="1186.5" y="243.5" width="4" height="7" fill="#fff" stroke="#000" stroke-width="1"/><rect x="1196" y="239" width="1" height="27" fill="#000"/><rect x="1194" y="243" width="5" height="3" fill="#000"/><rect x="1204" y="222" width="1" height="36" fill="#000"/><rect x="1202" y="244" width="5" height="10" fill="#000"/><rect x="1212" y="218" width="1" height="62" fill="#000"/><rect x="1210.5" y="244.5" width="4" height="9" fill="#fff" stroke="#000" stroke-width="1"/><rect x="1220" y="227" width="1" height="110" fill="#000"/><rect x="1218" y="243" width="5" height="70" fill="#000"/><rect x="1228" y="298" width="1" height="47" fill="#000"/><rect x="1226" y="313" width="5" height="29" fill="#000"/><rect x="1236" y="354" width="1" height="11" fill="#000"/><rect x="1234.5" y="356.5" width="4" height="2" fill="#fff" stroke="#000" stroke-width="1"/><rect x="1244" y="353" width="1" height="49" fill="#000"/><rect x="1242" y="357" width="5" height="30" fill="#000"/><rect x="1252" y="378" width="1" height="81" fill="#000"/><rect x="1250" y="386" width="5" height="67" fill="#000"/><rect x="1260" y="403" width="1" height="71" fill="#000"/><rect x="1258" y="452" width="5" height="20" fill="#000"/><rect x="1268" y="427" width="1" height="66" fill="#000"/><rect x="1266" y="472" width="5" height="4" fill="#000"/><rect x="1276" y="459" width="1" height="42" fill="#000"/><rect x="1274.5" y="461.5" width="4" height="14" fill="#fff" stroke="#000" stroke-width="1"/><rect x="1284" y="460" width="1" height="38" fill="#000"/><rect x="1282" y="461" width="5" height="6" fill="#000"/><rect x="1292" y="446" width="1" height="42" fill="#000"/><rect x="1290.5" y="452.5" width="4" height="14" fill="#fff" stroke="#000" stroke-width="1"/><rect x="1300" y="422" width="1" height="44" fill="#000"/><rect x="1298.5" y="431.5" width="4" height="21" fill="#fff" stroke="#000" stroke-width="1"/><rect x="1308" y="415" width="1" height="31" fill="#000"/><rect x="1306" y="431" width="5" height="8" fill="#000"/><rect x="1316" y="421" width="1" height="80" fill="#000"/><rect x="1314" y="438" width="5" height="27" fill="#000"/><rect x="1324" y="445" width="1" height="42" fill="#000"/><rect x="1322" y="463" width="5" height="2" fill="#000"/><rect x="1332" y="463" width="1" height="16" fill="#000"/><rect x="1330" y="463" width="5" height="11" fill="#000"/><rect x="1340" y="439" width="1" height="50" fill="#000"/><rect x="1338" y="474" width="5" height="12" fill="#000"/><rect x="1348" y="468" width="1" height="45" fill="#000"/><rect x="1346" y="486" width="5" height="23" fill="#000"/><rect x="1356" y="484" width="1" height="34" fill="#000"/><rect x="1354.5" y="501.5" width="4" height="7" fill="#fff" stroke="#000" stroke-width="1"/><rect x="1364" y="454" width="1" height="88" fill="#000"/><rect x="1362.5" y="456.5" width="4" height="46" fill="#fff" stroke="#000" stroke-width="1"/><rect x="1372" y="420" width="1" height="133" fill="#000"/><rect x="1370" y="456" width="5" height="82" fill="#000"/><rect x="1380" y="528" width="1" height="23" fill="#000"/><rect x="1378" y="537" width="5" height="5" fill="#000"/><rect x="1388" y="494" width="1" height="55" fill="#000"/><rect x="1386.5" y="500.5" width="4" height="36" fill="#fff" stroke="#000" stroke-width="1"/><rect x="1396" y="474" width="1" height="39" fill="#000"/><rect x="1394.5" y="476.5" width="4" height="23" fill="#fff" stroke="#000" stroke-width="1"/><rect x="1404" y="372" width="1" height="117" fill="#000"/><rect x="1402.5" y="373.5" width="4" height="103" fill="#fff" stroke="#000" stroke-width="1"/><rect x="1412" y="322" width="1" height="77" fill="#000"/><rect x="1410.5" y="330.5" width="4" height="43" fill="#fff" stroke="#000" stroke-width="1"/><rect x="1420" y="319" width="1" height="48" fill="#000"/><rect x="1418" y="330" width="5" height="34" fill="#000"/><rect x="1428" y="357" width="1" height="21" fill="#000"/><rect x="1426" y="363" width="5" height="7" fill="#000"/><rect x="1436" y="344" width="1" height="33" fill="#000"/><rect x="1434.5" y="365.5" width="4" height="4" fill="#fff" stroke="#000" stroke-width="1"/><rect x="1444" y="358" width="1" height="41" fill="#000"/><rect x="1442" y="364" width="5" height="25" fill="#000"/><rect x="1452" y="368" width="1" height="80" fill="#000"/><rect x="1450" y="388" width="5" height="56" fill="#000"/><rect x="1460" y="411" width="1" height="62" fill="#000"/><rect x="1458.5" y="435.5" width="4" height="8" fill="#fff" stroke="#000" stroke-width="1"/><rect x="1468" y="419" width="1" height="52" fill="#000"/><rect x="1466" y="435" width="5" height="34" fill="#000"/></g><rect x="0" y="25" width="1655" height="1" fill="#000"/><rect x="1654" y="25" width="1" height="902" fill="#000"/><rect x="0" y="578" width="1655" height="1" fill="#000"/><rect x="0" y="580" width="1655" height="1" fill="#000"/><rect x="0" y="750" width="1655" height="1" fill="#000"/><rect x="0" y="752" width="1655" height="1" fill="#000"/><rect x="0" y="926" width="1655" height="1" fill="#000"/><rect x="1655" y="47" width="2" height="1" fill="#000"/><text x="1660" y="51" font-family='"DejaVu Sans Condensed", "DejaVu Sans", "Liberation Sans", sans-serif' font-size="9.4" fill="#000" textLength="33.4" lengthAdjust="spacingAndGlyphs" stroke="#000" stroke-width="0.18" >1.39155</text><rect x="1655" y="80" width="2" height="1" fill="#000"/><text x="1660" y="84" font-family='"DejaVu Sans Condensed", "DejaVu Sans", "Liberation Sans", sans-serif' font-size="9.4" fill="#000" textLength="33.4" lengthAdjust="spacingAndGlyphs" stroke="#000" stroke-width="0.18" >1.38955</text><rect x="1655" y="113" width="2" height="1" fill="#000"/><text x="1660" y="117" font-family='"DejaVu Sans Condensed", "DejaVu Sans", "Liberation Sans", sans-serif' font-size="9.4" fill="#000" textLength="33.4" lengthAdjust="spacingAndGlyphs" stroke="#000" stroke-width="0.18" >1.38755</text><rect x="1655" y="146" width="2" height="1" fill="#000"/><text x="1660" y="150" font-family='"DejaVu Sans Condensed", "DejaVu Sans", "Liberation Sans", sans-serif' font-size="9.4" fill="#000" textLength="33.4" lengthAdjust="spacingAndGlyphs" stroke="#000" stroke-width="0.18" >1.38555</text><rect x="1655" y="179" width="2" height="1" fill="#000"/><text x="1660" y="183" font-family='"DejaVu Sans Condensed", "DejaVu Sans", "Liberation Sans", sans-serif' font-size="9.4" fill="#000" textLength="33.4" lengthAdjust="spacingAndGlyphs" stroke="#000" stroke-width="0.18" >1.38350</text><rect x="1655" y="212" width="2" height="1" fill="#000"/><text x="1660" y="216" font-family='"DejaVu Sans Condensed", "DejaVu Sans", "Liberation Sans", sans-serif' font-size="9.4" fill="#000" textLength="33.4" lengthAdjust="spacingAndGlyphs" stroke="#000" stroke-width="0.18" >1.38150</text><rect x="1655" y="245" width="2" height="1" fill="#000"/><text x="1660" y="249" font-family='"DejaVu Sans Condensed", "DejaVu Sans", "Liberation Sans", sans-serif' font-size="9.4" fill="#000" textLength="33.4" lengthAdjust="spacingAndGlyphs" stroke="#000" stroke-width="0.18" >1.37950</text><rect x="1655" y="278" width="2" height="1" fill="#000"/><text x="1660" y="282" font-family='"DejaVu Sans Condensed", "DejaVu Sans", "Liberation Sans", sans-serif' font-size="9.4" fill="#000" textLength="33.4" lengthAdjust="spacingAndGlyphs" stroke="#000" stroke-width="0.18" >1.37750</text><rect x="1655" y="311" width="2" height="1" fill="#000"/><text x="1660" y="315" font-family='"DejaVu Sans Condensed", "DejaVu Sans", "Liberation Sans", sans-serif' font-size="9.4" fill="#000" textLength="33.4" lengthAdjust="spacingAndGlyphs" stroke="#000" stroke-width="0.18" >1.37550</text><rect x="1655" y="344" width="2" height="1" fill="#000"/><text x="1660" y="348" font-family='"DejaVu Sans Condensed", "DejaVu Sans", "Liberation Sans", sans-serif' font-size="9.4" fill="#000" textLength="33.4" lengthAdjust="spacingAndGlyphs" stroke="#000" stroke-width="0.18" >1.37350</text><rect x="1655" y="377" width="2" height="1" fill="#000"/><text x="1660" y="381" font-family='"DejaVu Sans Condensed", "DejaVu Sans", "Liberation Sans", sans-serif' font-size="9.4" fill="#000" textLength="33.4" lengthAdjust="spacingAndGlyphs" stroke="#000" stroke-width="0.18" >1.37150</text><rect x="1655" y="410" width="2" height="1" fill="#000"/><text x="1660" y="414" font-family='"DejaVu Sans Condensed", "DejaVu Sans", "Liberation Sans", sans-serif' font-size="9.4" fill="#000" textLength="33.4" lengthAdjust="spacingAndGlyphs" stroke="#000" stroke-width="0.18" >1.36950</text><rect x="1655" y="443" width="2" height="1" fill="#000"/><text x="1660" y="447" font-family='"DejaVu Sans Condensed", "DejaVu Sans", "Liberation Sans", sans-serif' font-size="9.4" fill="#000" textLength="33.4" lengthAdjust="spacingAndGlyphs" stroke="#000" stroke-width="0.18" >1.36745</text><rect x="1655" y="476" width="2" height="1" fill="#000"/><text x="1660" y="480" font-family='"DejaVu Sans Condensed", "DejaVu Sans", "Liberation Sans", sans-serif' font-size="9.4" fill="#000" textLength="33.4" lengthAdjust="spacingAndGlyphs" stroke="#000" stroke-width="0.18" >1.36545</text><rect x="1655" y="509" width="2" height="1" fill="#000"/><text x="1660" y="513" font-family='"DejaVu Sans Condensed", "DejaVu Sans", "Liberation Sans", sans-serif' font-size="9.4" fill="#000" textLength="33.4" lengthAdjust="spacingAndGlyphs" stroke="#000" stroke-width="0.18" >1.36345</text><rect x="1655" y="542" width="2" height="1" fill="#000"/><text x="1660" y="546" font-family='"DejaVu Sans Condensed", "DejaVu Sans", "Liberation Sans", sans-serif' font-size="9.4" fill="#000" textLength="33.4" lengthAdjust="spacingAndGlyphs" stroke="#000" stroke-width="0.18" >1.36145</text><rect x="1655" y="575" width="2" height="1" fill="#000"/><text x="1660" y="579" font-family='"DejaVu Sans Condensed", "DejaVu Sans", "Liberation Sans", sans-serif' font-size="9.4" fill="#000" textLength="33.4" lengthAdjust="spacingAndGlyphs" stroke="#000" stroke-width="0.18" >1.35945</text><rect x="1656" y="398" width="41" height="11" fill="#ff0000"/><text x="1660" y="408" font-family='"DejaVu Sans Condensed", "DejaVu Sans", "Liberation Sans", sans-serif' font-size="9.4" fill="#fff" textLength="33.4" lengthAdjust="spacingAndGlyphs" stroke="#fff" stroke-width="0.18" >1.36986</text><rect x="1649.5" y="402.5" width="4" height="4" fill="#fff" stroke="#ff0000" stroke-width="1" shape-rendering="crispEdges"/><rect x="1656" y="421" width="41" height="11" fill="#ff4500"/><text x="1660" y="431" font-family='"DejaVu Sans Condensed", "DejaVu Sans", "Liberation Sans", sans-serif' font-size="9.4" fill="#fff" textLength="33.4" lengthAdjust="spacingAndGlyphs" stroke="#fff" stroke-width="0.18" >1.36846</text><rect x="1649.5" y="425.5" width="4" height="4" fill="#fff" stroke="#ff4500" stroke-width="1" shape-rendering="crispEdges"/><rect x="1656" y="444" width="41" height="11" fill="#32cd32"/><text x="1660" y="454" font-family='"DejaVu Sans Condensed", "DejaVu Sans", "Liberation Sans", sans-serif' font-size="9.4" fill="#fff" textLength="33.4" lengthAdjust="spacingAndGlyphs" stroke="#fff" stroke-width="0.18" >1.36707</text><rect x="1649.5" y="448.5" width="4" height="4" fill="#fff" stroke="#32cd32" stroke-width="1" shape-rendering="crispEdges"/><rect x="1656" y="462" width="41" height="11" fill="#000000"/><text x="1660" y="472" font-family='"DejaVu Sans Condensed", "DejaVu Sans", "Liberation Sans", sans-serif' font-size="9.4" fill="#fff" textLength="33.4" lengthAdjust="spacingAndGlyphs" stroke="#fff" stroke-width="0.18" >1.36596</text><rect x="1656" y="491" width="41" height="11" fill="#0000ff"/><text x="1660" y="501" font-family='"DejaVu Sans Condensed", "DejaVu Sans", "Liberation Sans", sans-serif' font-size="9.4" fill="#fff" textLength="33.4" lengthAdjust="spacingAndGlyphs" stroke="#fff" stroke-width="0.18" >1.36422</text><rect x="1649.5" y="495.5" width="4" height="4" fill="#fff" stroke="#0000ff" stroke-width="1" shape-rendering="crispEdges"/><rect x="1656" y="520" width="41" height="11" fill="#0000ff"/><text x="1660" y="530" font-family='"DejaVu Sans Condensed", "DejaVu Sans", "Liberation Sans", sans-serif' font-size="9.4" fill="#fff" textLength="33.4" lengthAdjust="spacingAndGlyphs" stroke="#fff" stroke-width="0.18" >1.36246</text><rect x="1649.5" y="524.5" width="4" height="4" fill="#fff" stroke="#0000ff" stroke-width="1" shape-rendering="crispEdges"/><g shape-rendering="crispEdges"><rect x="1394" y="448" width="108" height="5" fill="#00ff00"/></g><g shape-rendering="crispEdges"><rect x="1067" y="52" width="10" height="1" fill="#ff0000"/><rect x="251" y="563" width="10" height="1" fill="#ff0000"/><rect x="1411" y="319" width="10" height="1" fill="#ff0000"/><rect x="1363" y="552" width="10" height="1" fill="#ff0000"/><rect x="1117" y="450" width="7" height="1" fill="#ff0000"/><rect x="1123.5" y="448.5" width="3" height="3" fill="#fff" stroke="#ff0000" stroke-width="1"/></g><rect x="1005.5" y="43.5" width="61" height="18" fill="#fff" stroke="#ff0000" stroke-width="1" shape-rendering="crispEdges"/><text x="1008" y="58.5" font-family='"DejaVu Sans Condensed", "DejaVu Sans", "Liberation Sans", sans-serif' font-size="16" fill="#ff0000" textLength="57" lengthAdjust="spacingAndGlyphs">1.39125</text><rect x="189.5" y="554.5" width="61" height="18" fill="#fff" stroke="#ff0000" stroke-width="1" shape-rendering="crispEdges"/><text x="192" y="569.5" font-family='"DejaVu Sans Condensed", "DejaVu Sans", "Liberation Sans", sans-serif' font-size="16" fill="#ff0000" textLength="57" lengthAdjust="spacingAndGlyphs">1.36017</text><rect x="1349.5" y="310.5" width="61" height="18" fill="#fff" stroke="#ff0000" stroke-width="1" shape-rendering="crispEdges"/><text x="1352" y="325.5" font-family='"DejaVu Sans Condensed", "DejaVu Sans", "Liberation Sans", sans-serif' font-size="16" fill="#ff0000" textLength="57" lengthAdjust="spacingAndGlyphs">1.37502</text><rect x="1301.5" y="543.5" width="61" height="18" fill="#fff" stroke="#ff0000" stroke-width="1" shape-rendering="crispEdges"/><text x="1304" y="558.5" font-family='"DejaVu Sans Condensed", "DejaVu Sans", "Liberation Sans", sans-serif' font-size="16" fill="#ff0000" textLength="57" lengthAdjust="spacingAndGlyphs">1.36088</text><rect x="1127.5" y="438.5" width="73" height="24" fill="#fff" stroke="#ff0000" stroke-width="1" shape-rendering="crispEdges"/><text x="1129.5" y="459" font-family='"DejaVu Sans Condensed", "DejaVu Sans", "Liberation Sans", sans-serif' font-size="21.5" fill="#ff0000" stroke="#ff0000" stroke-width="0.15" textLength="70" lengthAdjust="spacingAndGlyphs">1.36707</text><rect x="1509.5" y="456.5" width="110" height="24" fill="none" stroke="#333" stroke-width="1" shape-rendering="crispEdges"/><text x="1510" y="476" font-family='"Noto Sans CJK SC", sans-serif' font-size="19.5" fill="#00ff00" textLength="107" lengthAdjust="spacing">多空转折点</text><rect x="1561.5" y="453.5" width="3" height="3" fill="#fff" stroke="#ff00ff" stroke-width="1" shape-rendering="crispEdges"/><g clip-path="url(#cmacd)" shape-rendering="crispEdges"><rect x="4" y="643" width="1" height="29" fill="#c0c0c0"/><rect x="12" y="643" width="1" height="29" fill="#c0c0c0"/><rect x="20" y="643" width="1" height="23" fill="#c0c0c0"/><rect x="28" y="643" width="1" height="16" fill="#c0c0c0"/><rect x="36" y="643" width="1" height="12" fill="#c0c0c0"/><rect x="44" y="643" width="1" height="10" fill="#c0c0c0"/><rect x="52" y="643" width="1" height="8" fill="#c0c0c0"/><rect x="60" y="643" width="1" height="4" fill="#c0c0c0"/><rect x="68" y="643" width="1" height="4" fill="#c0c0c0"/><rect x="76" y="643" width="1" height="5" fill="#c0c0c0"/><rect x="84" y="643" width="1" height="6" fill="#c0c0c0"/><rect x="92" y="643" width="1" height="11" fill="#c0c0c0"/><rect x="100" y="643" width="1" height="16" fill="#c0c0c0"/><rect x="108" y="643" width="1" height="22" fill="#c0c0c0"/><rect x="116" y="643" width="1" height="34" fill="#c0c0c0"/><rect x="124" y="643" width="1" height="43" fill="#c0c0c0"/><rect x="132" y="643" width="1" height="49" fill="#c0c0c0"/><rect x="140" y="643" width="1" height="52" fill="#c0c0c0"/><rect x="148" y="643" width="1" height="55" fill="#c0c0c0"/><rect x="156" y="643" width="1" height="52" fill="#c0c0c0"/><rect x="164" y="643" width="1" height="53" fill="#c0c0c0"/><rect x="172" y="643" width="1" height="52" fill="#c0c0c0"/><rect x="180" y="643" width="1" height="52" fill="#c0c0c0"/><rect x="188" y="643" width="1" height="55" fill="#c0c0c0"/><rect x="196" y="643" width="1" height="61" fill="#c0c0c0"/><rect x="204" y="643" width="1" height="66" fill="#c0c0c0"/><rect x="212" y="643" width="1" height="72" fill="#c0c0c0"/><rect x="220" y="643" width="1" height="81" fill="#c0c0c0"/><rect x="228" y="643" width="1" height="87" fill="#c0c0c0"/><rect x="236" y="643" width="1" height="92" fill="#c0c0c0"/><rect x="244" y="643" width="1" height="96" fill="#c0c0c0"/><rect x="252" y="643" width="1" height="99" fill="#c0c0c0"/><rect x="260" y="643" width="1" height="98" fill="#c0c0c0"/><rect x="268" y="643" width="1" height="97" fill="#c0c0c0"/><rect x="276" y="643" width="1" height="95" fill="#c0c0c0"/><rect x="284" y="643" width="1" height="88" fill="#c0c0c0"/><rect x="292" y="643" width="1" height="82" fill="#c0c0c0"/><rect x="300" y="643" width="1" height="71" fill="#c0c0c0"/><rect x="308" y="643" width="1" height="57" fill="#c0c0c0"/><rect x="316" y="643" width="1" height="43" fill="#c0c0c0"/><rect x="324" y="643" width="1" height="33" fill="#c0c0c0"/><rect x="332" y="643" width="1" height="26" fill="#c0c0c0"/><rect x="340" y="643" width="1" height="19" fill="#c0c0c0"/><rect x="348" y="643" width="1" height="14" fill="#c0c0c0"/><rect x="356" y="643" width="1" height="10" fill="#c0c0c0"/><rect x="364" y="643" width="1" height="5" fill="#c0c0c0"/><rect x="380" y="642" width="1" height="2" fill="#c0c0c0"/><rect x="388" y="640" width="1" height="4" fill="#c0c0c0"/><rect x="396" y="640" width="1" height="4" fill="#c0c0c0"/><rect x="404" y="639" width="1" height="5" fill="#c0c0c0"/><rect x="412" y="632" width="1" height="12" fill="#c0c0c0"/><rect x="420" y="626" width="1" height="18" fill="#c0c0c0"/><rect x="428" y="624" width="1" height="20" fill="#c0c0c0"/><rect x="436" y="623" width="1" height="21" fill="#c0c0c0"/><rect x="444" y="624" width="1" height="20" fill="#c0c0c0"/><rect x="452" y="629" width="1" height="15" fill="#c0c0c0"/><rect x="460" y="634" width="1" height="10" fill="#c0c0c0"/><rect x="468" y="639" width="1" height="5" fill="#c0c0c0"/><rect x="500" y="635" width="1" height="9" fill="#c0c0c0"/><rect x="508" y="630" width="1" height="14" fill="#c0c0c0"/><rect x="516" y="626" width="1" height="18" fill="#c0c0c0"/><rect x="524" y="623" width="1" height="21" fill="#c0c0c0"/><rect x="532" y="620" width="1" height="24" fill="#c0c0c0"/><rect x="540" y="620" width="1" height="24" fill="#c0c0c0"/><rect x="548" y="620" width="1" height="24" fill="#c0c0c0"/><rect x="556" y="620" width="1" height="24" fill="#c0c0c0"/><rect x="564" y="621" width="1" height="23" fill="#c0c0c0"/><rect x="572" y="619" width="1" height="25" fill="#c0c0c0"/><rect x="580" y="616" width="1" height="28" fill="#c0c0c0"/><rect x="588" y="614" width="1" height="30" fill="#c0c0c0"/><rect x="596" y="619" width="1" height="25" fill="#c0c0c0"/><rect x="604" y="623" width="1" height="21" fill="#c0c0c0"/><rect x="612" y="626" width="1" height="18" fill="#c0c0c0"/><rect x="620" y="630" width="1" height="14" fill="#c0c0c0"/><rect x="628" y="631" width="1" height="13" fill="#c0c0c0"/><rect x="636" y="632" width="1" height="12" fill="#c0c0c0"/><rect x="644" y="627" width="1" height="17" fill="#c0c0c0"/><rect x="652" y="627" width="1" height="17" fill="#c0c0c0"/><rect x="660" y="627" width="1" height="17" fill="#c0c0c0"/><rect x="668" y="627" width="1" height="17" fill="#c0c0c0"/><rect x="676" y="625" width="1" height="19" fill="#c0c0c0"/><rect x="684" y="623" width="1" height="21" fill="#c0c0c0"/><rect x="692" y="617" width="1" height="27" fill="#c0c0c0"/><rect x="700" y="610" width="1" height="34" fill="#c0c0c0"/><rect x="708" y="605" width="1" height="39" fill="#c0c0c0"/><rect x="716" y="603" width="1" height="41" fill="#c0c0c0"/><rect x="724" y="602" width="1" height="42" fill="#c0c0c0"/><rect x="732" y="601" width="1" height="43" fill="#c0c0c0"/><rect x="740" y="597" width="1" height="47" fill="#c0c0c0"/><rect x="748" y="591" width="1" height="53" fill="#c0c0c0"/><rect x="756" y="590" width="1" height="54" fill="#c0c0c0"/><rect x="764" y="591" width="1" height="53" fill="#c0c0c0"/><rect x="772" y="595" width="1" height="49" fill="#c0c0c0"/><rect x="780" y="597" width="1" height="47" fill="#c0c0c0"/><rect x="788" y="602" width="1" height="42" fill="#c0c0c0"/><rect x="796" y="605" width="1" height="39" fill="#c0c0c0"/><rect x="804" y="607" width="1" height="37" fill="#c0c0c0"/><rect x="812" y="608" width="1" height="36" fill="#c0c0c0"/><rect x="820" y="612" width="1" height="32" fill="#c0c0c0"/><rect x="828" y="623" width="1" height="21" fill="#c0c0c0"/><rect x="836" y="630" width="1" height="14" fill="#c0c0c0"/><rect x="844" y="637" width="1" height="7" fill="#c0c0c0"/><rect x="860" y="643" width="1" height="6" fill="#c0c0c0"/><rect x="868" y="643" width="1" height="12" fill="#c0c0c0"/><rect x="876" y="643" width="1" height="15" fill="#c0c0c0"/><rect x="884" y="643" width="1" height="19" fill="#c0c0c0"/><rect x="892" y="643" width="1" height="20" fill="#c0c0c0"/><rect x="900" y="643" width="1" height="22" fill="#c0c0c0"/><rect x="908" y="643" width="1" height="23" fill="#c0c0c0"/><rect x="916" y="643" width="1" height="21" fill="#c0c0c0"/><rect x="924" y="643" width="1" height="11" fill="#c0c0c0"/><rect x="940" y="637" width="1" height="7" fill="#c0c0c0"/><rect x="948" y="633" width="1" height="11" fill="#c0c0c0"/><rect x="956" y="627" width="1" height="17" fill="#c0c0c0"/><rect x="964" y="620" width="1" height="24" fill="#c0c0c0"/><rect x="972" y="613" width="1" height="31" fill="#c0c0c0"/><rect x="980" y="614" width="1" height="30" fill="#c0c0c0"/><rect x="988" y="615" width="1" height="29" fill="#c0c0c0"/><rect x="996" y="617" width="1" height="27" fill="#c0c0c0"/><rect x="1004" y="618" width="1" height="26" fill="#c0c0c0"/><rect x="1012" y="623" width="1" height="21" fill="#c0c0c0"/><rect x="1020" y="626" width="1" height="18" fill="#c0c0c0"/><rect x="1028" y="626" width="1" height="18" fill="#c0c0c0"/><rect x="1036" y="627" width="1" height="17" fill="#c0c0c0"/><rect x="1044" y="628" width="1" height="16" fill="#c0c0c0"/><rect x="1052" y="628" width="1" height="16" fill="#c0c0c0"/><rect x="1060" y="623" width="1" height="21" fill="#c0c0c0"/><rect x="1068" y="623" width="1" height="21" fill="#c0c0c0"/><rect x="1076" y="624" width="1" height="20" fill="#c0c0c0"/><rect x="1084" y="631" width="1" height="13" fill="#c0c0c0"/><rect x="1092" y="637" width="1" height="7" fill="#c0c0c0"/><rect x="1100" y="642" width="1" height="2" fill="#c0c0c0"/><rect x="1108" y="642" width="1" height="2" fill="#c0c0c0"/><rect x="1124" y="642" width="1" height="2" fill="#c0c0c0"/><rect x="1132" y="640" width="1" height="4" fill="#c0c0c0"/><rect x="1140" y="638" width="1" height="6" fill="#c0c0c0"/><rect x="1148" y="638" width="1" height="6" fill="#c0c0c0"/><rect x="1156" y="641" width="1" height="3" fill="#c0c0c0"/><rect x="1164" y="640" width="1" height="4" fill="#c0c0c0"/><rect x="1172" y="643" width="1" height="6" fill="#c0c0c0"/><rect x="1180" y="643" width="1" height="10" fill="#c0c0c0"/><rect x="1188" y="643" width="1" height="13" fill="#c0c0c0"/><rect x="1196" y="643" width="1" height="15" fill="#c0c0c0"/><rect x="1204" y="643" width="1" height="18" fill="#c0c0c0"/><rect x="1212" y="643" width="1" height="18" fill="#c0c0c0"/><rect x="1220" y="643" width="1" height="25" fill="#c0c0c0"/><rect x="1228" y="643" width="1" height="33" fill="#c0c0c0"/><rect x="1236" y="643" width="1" height="40" fill="#c0c0c0"/><rect x="1244" y="643" width="1" height="47" fill="#c0c0c0"/><rect x="1252" y="643" width="1" height="59" fill="#c0c0c0"/><rect x="1260" y="643" width="1" height="69" fill="#c0c0c0"/><rect x="1268" y="643" width="1" height="77" fill="#c0c0c0"/><rect x="1276" y="643" width="1" height="80" fill="#c0c0c0"/><rect x="1284" y="643" width="1" height="83" fill="#c0c0c0"/><rect x="1292" y="643" width="1" height="83" fill="#c0c0c0"/><rect x="1300" y="643" width="1" height="80" fill="#c0c0c0"/><rect x="1308" y="643" width="1" height="77" fill="#c0c0c0"/><rect x="1316" y="643" width="1" height="76" fill="#c0c0c0"/><rect x="1324" y="643" width="1" height="75" fill="#c0c0c0"/><rect x="1332" y="643" width="1" height="74" fill="#c0c0c0"/><rect x="1340" y="643" width="1" height="74" fill="#c0c0c0"/><rect x="1348" y="643" width="1" height="74" fill="#c0c0c0"/><rect x="1356" y="643" width="1" height="74" fill="#c0c0c0"/><rect x="1364" y="643" width="1" height="68" fill="#c0c0c0"/><rect x="1372" y="643" width="1" height="70" fill="#c0c0c0"/><rect x="1380" y="643" width="1" height="72" fill="#c0c0c0"/><rect x="1388" y="643" width="1" height="68" fill="#c0c0c0"/><rect x="1396" y="643" width="1" height="62" fill="#c0c0c0"/><rect x="1404" y="643" width="1" height="48" fill="#c0c0c0"/><rect x="1412" y="643" width="1" height="32" fill="#c0c0c0"/><rect x="1420" y="643" width="1" height="22" fill="#c0c0c0"/><rect x="1428" y="643" width="1" height="15" fill="#c0c0c0"/><rect x="1436" y="643" width="1" height="9" fill="#c0c0c0"/><rect x="1444" y="643" width="1" height="6" fill="#c0c0c0"/><rect x="1452" y="643" width="1" height="9" fill="#c0c0c0"/><rect x="1460" y="643" width="1" height="10" fill="#c0c0c0"/><rect x="1468" y="643" width="1" height="14" fill="#c0c0c0"/><polyline points="-3.5,662.5 4.5,663.5 12.5,663.5 20.5,664.5 28.5,665.5 36.5,665.5 44.5,664.5 52.5,662.5 60.5,660.5 68.5,657.5 76.5,654.5 84.5,652.5 92.5,650.5 100.5,650.5 108.5,652.5 116.5,654.5 124.5,658.5 132.5,663.5 140.5,668.5 148.5,674.5 156.5,679.5 164.5,684.5 172.5,688.5 180.5,691.5 188.5,693.5 196.5,695.5 204.5,697.5 212.5,700.5 220.5,702.5 228.5,706.5 236.5,711.5 244.5,716.5 252.5,721.5 260.5,725.5 268.5,730.5 276.5,733.5 284.5,734.5 292.5,735.5 300.5,733.5 308.5,729.5 316.5,723.5 324.5,716.5 332.5,708.5 340.5,699.5 348.5,690.5 356.5,681.5 364.5,673.5 372.5,665.5 380.5,659.5 388.5,654.5 396.5,650.5 404.5,647.5 412.5,643.5 420.5,640.5 428.5,637.5 436.5,634.5 444.5,632.5 452.5,631.5 460.5,630.5 468.5,630.5 476.5,630.5 484.5,632.5 492.5,633.5 500.5,635.5 508.5,636.5 516.5,636.5 524.5,635.5 532.5,634.5 540.5,631.5 548.5,629.5 556.5,626.5 564.5,624.5 572.5,622.5 580.5,621.5 588.5,619.5 596.5,619.5 604.5,619.5 612.5,620.5 620.5,621.5 628.5,622.5 636.5,623.5 644.5,624.5 652.5,625.5 660.5,627.5 668.5,628.5 676.5,628.5 684.5,628.5 692.5,626.5 700.5,624.5 708.5,621.5 716.5,618.5 724.5,615.5 732.5,613.5 740.5,609.5 748.5,605.5 756.5,602.5 764.5,599.5 772.5,597.5 780.5,596.5 788.5,596.5 796.5,597.5 804.5,597.5 812.5,599.5 820.5,601.5 828.5,604.5 836.5,609.5 844.5,614.5 852.5,619.5 860.5,624.5 868.5,629.5 876.5,635.5 884.5,641.5 892.5,646.5 900.5,651.5 908.5,655.5 916.5,657.5 924.5,658.5 932.5,658.5 940.5,656.5 948.5,653.5 956.5,650.5 964.5,645.5 972.5,639.5 980.5,634.5 988.5,628.5 996.5,624.5 1004.5,622.5 1012.5,620.5 1020.5,619.5 1028.5,619.5 1036.5,620.5 1044.5,622.5 1052.5,623.5 1060.5,624.5 1068.5,625.5 1076.5,626.5 1084.5,626.5 1092.5,628.5 1100.5,629.5 1108.5,631.5 1116.5,633.5 1124.5,634.5 1132.5,636.5 1140.5,638.5 1148.5,639.5 1156.5,640.5 1164.5,641.5 1172.5,641.5 1180.5,642.5 1188.5,644.5 1196.5,645.5 1204.5,648.5 1212.5,650.5 1220.5,653.5 1228.5,657.5 1236.5,662.5 1244.5,666.5 1252.5,672.5 1260.5,678.5 1268.5,685.5 1276.5,692.5 1284.5,699.5 1292.5,705.5 1300.5,711.5 1308.5,715.5 1316.5,718.5 1324.5,720.5 1332.5,720.5 1340.5,720.5 1348.5,719.5 1356.5,718.5 1364.5,717.5 1372.5,716.5 1380.5,715.5 1388.5,714.5 1396.5,713.5 1404.5,710.5 1412.5,705.5 1420.5,699.5 1428.5,693.5 1436.5,686.5 1444.5,679.5 1452.5,672.5 1460.5,666.5 1468.5,660.5" fill="none" stroke="#ff0000" stroke-width="1" stroke-dasharray="3 3"/></g><g clip-path="url(#crsi)" shape-rendering="crispEdges"><line x1="3" y1="788.5" x2="1654" y2="788.5" stroke="#c0c0c0" stroke-width="1" stroke-dasharray="3 3"/><line x1="3" y1="840.5" x2="1654" y2="840.5" stroke="#c0c0c0" stroke-width="1" stroke-dasharray="3 3"/><line x1="3" y1="900.5" x2="1654" y2="900.5" stroke="#c0c0c0" stroke-width="1" stroke-dasharray="3 3"/><polyline points="-3.5,873.5 4.5,865.5 12.5,858.5 20.5,835.5 28.5,829.5 36.5,832.5 44.5,838.5 52.5,837.5 60.5,831.5 68.5,842.5 76.5,846.5 84.5,845.5 92.5,857.5 100.5,864.5 108.5,868.5 116.5,882.5 124.5,882.5 132.5,880.5 140.5,871.5 148.5,875.5 156.5,857.5 164.5,865.5 172.5,859.5 180.5,864.5 188.5,871.5 196.5,877.5 204.5,880.5 212.5,882.5 220.5,889.5 228.5,890.5 236.5,890.5 244.5,892.5 252.5,893.5 260.5,883.5 268.5,884.5 276.5,882.5 284.5,865.5 292.5,865.5 300.5,846.5 308.5,831.5 316.5,827.5 324.5,829.5 332.5,832.5 340.5,833.5 348.5,831.5 356.5,834.5 364.5,826.5 372.5,831.5 380.5,834.5 388.5,834.5 396.5,836.5 404.5,832.5 412.5,814.5 420.5,812.5 428.5,822.5 436.5,824.5 444.5,833.5 452.5,845.5 460.5,851.5 468.5,851.5 476.5,852.5 484.5,841.5 492.5,838.5 500.5,816.5 508.5,816.5 516.5,820.5 524.5,817.5 532.5,818.5 540.5,824.5 548.5,826.5 556.5,824.5 564.5,825.5 572.5,816.5 580.5,812.5 588.5,810.5 596.5,840.5 604.5,840.5 612.5,837.5 620.5,846.5 628.5,835.5 636.5,835.5 644.5,819.5 652.5,831.5 660.5,830.5 668.5,829.5 676.5,822.5 684.5,821.5 692.5,808.5 700.5,804.5 708.5,804.5 716.5,806.5 724.5,813.5 732.5,810.5 740.5,800.5 748.5,796.5 756.5,811.5 764.5,815.5 772.5,823.5 780.5,820.5 788.5,832.5 796.5,828.5 804.5,826.5 812.5,822.5 820.5,832.5 828.5,858.5 836.5,850.5 844.5,853.5 852.5,854.5 860.5,854.5 868.5,860.5 876.5,857.5 884.5,860.5 892.5,852.5 900.5,856.5 908.5,857.5 916.5,842.5 924.5,821.5 932.5,815.5 940.5,824.5 948.5,824.5 956.5,819.5 964.5,812.5 972.5,808.5 980.5,829.5 988.5,829.5 996.5,832.5 1004.5,832.5 1012.5,843.5 1020.5,839.5 1028.5,831.5 1036.5,835.5 1044.5,834.5 1052.5,830.5 1060.5,818.5 1068.5,831.5 1076.5,833.5 1084.5,850.5 1092.5,850.5 1100.5,851.5 1108.5,841.5 1116.5,842.5 1124.5,837.5 1132.5,831.5 1140.5,831.5 1148.5,838.5 1156.5,844.5 1164.5,836.5 1172.5,859.5 1180.5,854.5 1188.5,851.5 1196.5,852.5 1204.5,854.5 1212.5,851.5 1220.5,866.5 1228.5,871.5 1236.5,874.5 1244.5,878.5 1252.5,887.5 1260.5,889.5 1268.5,889.5 1276.5,883.5 1284.5,884.5 1292.5,878.5 1300.5,870.5 1308.5,871.5 1316.5,876.5 1324.5,876.5 1332.5,877.5 1340.5,880.5 1348.5,884.5 1356.5,880.5 1364.5,859.5 1372.5,875.5 1380.5,876.5 1388.5,861.5 1396.5,853.5 1404.5,829.5 1412.5,821.5 1420.5,829.5 1428.5,831.5 1436.5,830.5 1444.5,836.5 1452.5,848.5 1460.5,846.5 1468.5,853.5" fill="none" stroke="#1e90ff" stroke-width="1" /></g><line x1="1421.5" y1="323.5" x2="1475" y2="462" stroke="#ff0000" stroke-width="4" stroke-linecap="butt" shape-rendering="crispEdges"/><polygon points="1470.5,464 1481.5,460 1480.5,475" fill="#ff0000" shape-rendering="crispEdges"/><line x1="1437.5" y1="644" x2="1479" y2="662" stroke="#ff0000" stroke-width="3.5" stroke-linecap="butt" shape-rendering="crispEdges"/><polygon points="1480.5,655.5 1489.5,665 1476,666" fill="#ff0000" shape-rendering="crispEdges"/><line x1="1411.5" y1="818.5" x2="1464" y2="851" stroke="#ff0000" stroke-width="4" stroke-linecap="butt" shape-rendering="crispEdges"/><polygon points="1466.5,845.5 1475,856.5 1460.5,854" fill="#ff0000" shape-rendering="crispEdges"/><g shape-rendering="crispEdges"><rect x="1655" y="582" width="2" height="1" fill="#000"/><rect x="1655" y="644" width="2" height="1" fill="#000"/><rect x="1655" y="749" width="2" height="1" fill="#000"/><rect x="1655" y="754" width="2" height="1" fill="#000"/><rect x="1655" y="788" width="2" height="1" fill="#000"/><rect x="1655" y="839" width="2" height="1" fill="#000"/><rect x="1655" y="900" width="2" height="1" fill="#000"/><rect x="1655" y="925" width="2" height="1" fill="#000"/></g><text x="1658" y="591" font-family='"DejaVu Sans Condensed", "DejaVu Sans", "Liberation Sans", sans-serif' font-size="9.4" fill="#000" textLength="38.6" lengthAdjust="spacingAndGlyphs" stroke="#000" stroke-width="0.18" >0.003243</text><text x="1658" y="648" font-family='"DejaVu Sans Condensed", "DejaVu Sans", "Liberation Sans", sans-serif' font-size="9.4" fill="#000" textLength="18.0" lengthAdjust="spacingAndGlyphs" stroke="#000" stroke-width="0.18" >0.00</text><text x="1657.5" y="747" font-family='"DejaVu Sans Condensed", "DejaVu Sans", "Liberation Sans", sans-serif' font-size="9.4" fill="#000" textLength="41.7" lengthAdjust="spacingAndGlyphs" stroke="#000" stroke-width="0.18" >-0.005616</text><text x="1658" y="763" font-family='"DejaVu Sans Condensed", "DejaVu Sans", "Liberation Sans", sans-serif' font-size="9.4" fill="#000" textLength="15.4" lengthAdjust="spacingAndGlyphs" stroke="#000" stroke-width="0.18" >100</text><text x="1658" y="792" font-family='"DejaVu Sans Condensed", "DejaVu Sans", "Liberation Sans", sans-serif' font-size="9.4" fill="#000" textLength="10.3" lengthAdjust="spacingAndGlyphs" stroke="#000" stroke-width="0.18" >80</text><text x="1658" y="843" font-family='"DejaVu Sans Condensed", "DejaVu Sans", "Liberation Sans", sans-serif' font-size="9.4" fill="#000" textLength="10.3" lengthAdjust="spacingAndGlyphs" stroke="#000" stroke-width="0.18" >50</text><text x="1658" y="904" font-family='"DejaVu Sans Condensed", "DejaVu Sans", "Liberation Sans", sans-serif' font-size="9.4" fill="#000" textLength="10.3" lengthAdjust="spacingAndGlyphs" stroke="#000" stroke-width="0.18" >15</text><text x="1658" y="923" font-family='"DejaVu Sans Condensed", "DejaVu Sans", "Liberation Sans", sans-serif' font-size="9.4" fill="#000" textLength="5.1" lengthAdjust="spacingAndGlyphs" stroke="#000" stroke-width="0.18" >0</text><text x="0" y="593" font-family='"DejaVu Sans Condensed", "DejaVu Sans", "Liberation Sans", sans-serif' font-size="9.4" fill="#000" textLength="152.7" lengthAdjust="spacingAndGlyphs" stroke="#000" stroke-width="0.18" >MACD(12,26,9) -0.000664 -0.000901</text><text x="0" y="765" font-family='"DejaVu Sans Condensed", "DejaVu Sans", "Liberation Sans", sans-serif' font-size="9.4" fill="#000" textLength="67.9" lengthAdjust="spacingAndGlyphs" stroke="#000" stroke-width="0.18" >RSI(14) 42.4674</text><text x="11" y="37" font-family='"DejaVu Sans Condensed", "DejaVu Sans", "Liberation Sans", sans-serif' font-size="9.4" fill="#000" textLength="56.5" lengthAdjust="spacingAndGlyphs" stroke="#000" stroke-width="0.18" >GBPUSD-,H4</text><text x="74.5" y="37" font-family='"DejaVu Sans Condensed", "DejaVu Sans", "Liberation Sans", sans-serif' font-size="9.4" fill="#000" textLength="33.4" lengthAdjust="spacingAndGlyphs" stroke="#000" stroke-width="0.18" >1.36796</text><text x="110.3" y="37" font-family='"DejaVu Sans Condensed", "DejaVu Sans", "Liberation Sans", sans-serif' font-size="9.4" fill="#000" textLength="33.4" lengthAdjust="spacingAndGlyphs" stroke="#000" stroke-width="0.18" >1.36893</text><text x="146.1" y="37" font-family='"DejaVu Sans Condensed", "DejaVu Sans", "Liberation Sans", sans-serif' font-size="9.4" fill="#000" textLength="33.4" lengthAdjust="spacingAndGlyphs" stroke="#000" stroke-width="0.18" >1.36585</text><text x="182" y="37" font-family='"DejaVu Sans Condensed", "DejaVu Sans", "Liberation Sans", sans-serif' font-size="9.4" fill="#000" textLength="33.4" lengthAdjust="spacingAndGlyphs" stroke="#000" stroke-width="0.18" >1.36596</text><polygon points="0,37 3.5,32.5 7,37" fill="#000"/><text x="-4.5" y="939" font-family='"DejaVu Sans Condensed", "DejaVu Sans", "Liberation Sans", sans-serif' font-size="9.4" fill="#000" textLength="52.5" lengthAdjust="spacingAndGlyphs" stroke="#000" stroke-width="0.18" >13 Aug 2021</text><g shape-rendering="crispEdges"><rect x="60" y="927" width="1" height="3" fill="#000"/><rect x="124" y="927" width="1" height="3" fill="#000"/><rect x="188" y="927" width="1" height="3" fill="#000"/><rect x="252" y="927" width="1" height="3" fill="#000"/><rect x="316" y="927" width="1" height="3" fill="#000"/><rect x="380" y="927" width="1" height="3" fill="#000"/><rect x="444" y="927" width="1" height="3" fill="#000"/><rect x="508" y="927" width="1" height="3" fill="#000"/><rect x="572" y="927" width="1" height="3" fill="#000"/><rect x="636" y="927" width="1" height="3" fill="#000"/><rect x="700" y="927" width="1" height="3" fill="#000"/><rect x="764" y="927" width="1" height="3" fill="#000"/><rect x="828" y="927" width="1" height="3" fill="#000"/><rect x="892" y="927" width="1" height="3" fill="#000"/><rect x="956" y="927" width="1" height="3" fill="#000"/><rect x="1020" y="927" width="1" height="3" fill="#000"/><rect x="1084" y="927" width="1" height="3" fill="#000"/><rect x="1148" y="927" width="1" height="3" fill="#000"/><rect x="1212" y="927" width="1" height="3" fill="#000"/><rect x="1276" y="927" width="1" height="3" fill="#000"/><rect x="1340" y="927" width="1" height="3" fill="#000"/><rect x="1404" y="927" width="1" height="3" fill="#000"/><rect x="1468" y="927" width="1" height="3" fill="#000"/></g><text x="59.5" y="939" font-family='"DejaVu Sans Condensed", "DejaVu Sans", "Liberation Sans", sans-serif' font-size="9.4" fill="#000" textLength="55.0" lengthAdjust="spacingAndGlyphs" stroke="#000" stroke-width="0.18" >16 Aug 08:00</text><text x="123.5" y="939" font-family='"DejaVu Sans Condensed", "DejaVu Sans", "Liberation Sans", sans-serif' font-size="9.4" fill="#000" textLength="55.0" lengthAdjust="spacingAndGlyphs" stroke="#000" stroke-width="0.18" >17 Aug 16:00</text><text x="187.5" y="939" font-family='"DejaVu Sans Condensed", "DejaVu Sans", "Liberation Sans", sans-serif' font-size="9.4" fill="#000" textLength="55.0" lengthAdjust="spacingAndGlyphs" stroke="#000" stroke-width="0.18" >19 Aug 00:00</text><text x="251.5" y="939" font-family='"DejaVu Sans Condensed", "DejaVu Sans", "Liberation Sans", sans-serif' font-size="9.4" fill="#000" textLength="55.0" lengthAdjust="spacingAndGlyphs" stroke="#000" stroke-width="0.18" >20 Aug 08:00</text><text x="315.5" y="939" font-family='"DejaVu Sans Condensed", "DejaVu Sans", "Liberation Sans", sans-serif' font-size="9.4" fill="#000" textLength="55.0" lengthAdjust="spacingAndGlyphs" stroke="#000" stroke-width="0.18" >23 Aug 16:00</text><text x="379.5" y="939" font-family='"DejaVu Sans Condensed", "DejaVu Sans", "Liberation Sans", sans-serif' font-size="9.4" fill="#000" textLength="55.0" lengthAdjust="spacingAndGlyphs" stroke="#000" stroke-width="0.18" >25 Aug 00:00</text><text x="443.5" y="939" font-family='"DejaVu Sans Condensed", "DejaVu Sans", "Liberation Sans", sans-serif' font-size="9.4" fill="#000" textLength="55.0" lengthAdjust="spacingAndGlyphs" stroke="#000" stroke-width="0.18" >26 Aug 08:00</text><text x="507.5" y="939" font-family='"DejaVu Sans Condensed", "DejaVu Sans", "Liberation Sans", sans-serif' font-size="9.4" fill="#000" textLength="55.0" lengthAdjust="spacingAndGlyphs" stroke="#000" stroke-width="0.18" >27 Aug 16:00</text><text x="571.5" y="939" font-family='"DejaVu Sans Condensed", "DejaVu Sans", "Liberation Sans", sans-serif' font-size="9.4" fill="#000" textLength="55.0" lengthAdjust="spacingAndGlyphs" stroke="#000" stroke-width="0.18" >31 Aug 00:00</text><text x="635.5" y="939" font-family='"DejaVu Sans Condensed", "DejaVu Sans", "Liberation Sans", sans-serif' font-size="9.4" fill="#000" textLength="49.9" lengthAdjust="spacingAndGlyphs" stroke="#000" stroke-width="0.18" >1 Sep 08:00</text><text x="699.5" y="939" font-family='"DejaVu Sans Condensed", "DejaVu Sans", "Liberation Sans", sans-serif' font-size="9.4" fill="#000" textLength="49.9" lengthAdjust="spacingAndGlyphs" stroke="#000" stroke-width="0.18" >2 Sep 16:00</text><text x="763.5" y="939" font-family='"DejaVu Sans Condensed", "DejaVu Sans", "Liberation Sans", sans-serif' font-size="9.4" fill="#000" textLength="49.9" lengthAdjust="spacingAndGlyphs" stroke="#000" stroke-width="0.18" >6 Sep 00:00</text><text x="827.5" y="939" font-family='"DejaVu Sans Condensed", "DejaVu Sans", "Liberation Sans", sans-serif' font-size="9.4" fill="#000" textLength="49.9" lengthAdjust="spacingAndGlyphs" stroke="#000" stroke-width="0.18" >7 Sep 08:00</text><text x="891.5" y="939" font-family='"DejaVu Sans Condensed", "DejaVu Sans", "Liberation Sans", sans-serif' font-size="9.4" fill="#000" textLength="49.9" lengthAdjust="spacingAndGlyphs" stroke="#000" stroke-width="0.18" >8 Sep 16:00</text><text x="955.5" y="939" font-family='"DejaVu Sans Condensed", "DejaVu Sans", "Liberation Sans", sans-serif' font-size="9.4" fill="#000" textLength="55.0" lengthAdjust="spacingAndGlyphs" stroke="#000" stroke-width="0.18" >10 Sep 00:00</text><text x="1019.5" y="939" font-family='"DejaVu Sans Condensed", "DejaVu Sans", "Liberation Sans", sans-serif' font-size="9.4" fill="#000" textLength="55.0" lengthAdjust="spacingAndGlyphs" stroke="#000" stroke-width="0.18" >13 Sep 08:00</text><text x="1083.5" y="939" font-family='"DejaVu Sans Condensed", "DejaVu Sans", "Liberation Sans", sans-serif' font-size="9.4" fill="#000" textLength="55.0" lengthAdjust="spacingAndGlyphs" stroke="#000" stroke-width="0.18" >14 Sep 16:00</text><text x="1147.5" y="939" font-family='"DejaVu Sans Condensed", "DejaVu Sans", "Liberation Sans", sans-serif' font-size="9.4" fill="#000" textLength="55.0" lengthAdjust="spacingAndGlyphs" stroke="#000" stroke-width="0.18" >16 Sep 00:00</text><text x="1211.5" y="939" font-family='"DejaVu Sans Condensed", "DejaVu Sans", "Liberation Sans", sans-serif' font-size="9.4" fill="#000" textLength="55.0" lengthAdjust="spacingAndGlyphs" stroke="#000" stroke-width="0.18" >17 Sep 08:00</text><text x="1275.5" y="939" font-family='"DejaVu Sans Condensed", "DejaVu Sans", "Liberation Sans", sans-serif' font-size="9.4" fill="#000" textLength="55.0" lengthAdjust="spacingAndGlyphs" stroke="#000" stroke-width="0.18" >20 Sep 16:00</text><text x="1339.5" y="939" font-family='"DejaVu Sans Condensed", "DejaVu Sans", "Liberation Sans", sans-serif' font-size="9.4" fill="#000" textLength="55.0" lengthAdjust="spacingAndGlyphs" stroke="#000" stroke-width="0.18" >22 Sep 00:00</text><text x="1403.5" y="939" font-family='"DejaVu Sans Condensed", "DejaVu Sans", "Liberation Sans", sans-serif' font-size="9.4" fill="#000" textLength="55.0" lengthAdjust="spacingAndGlyphs" stroke="#000" stroke-width="0.18" >23 Sep 08:00</text><text x="1467.5" y="939" font-family='"DejaVu Sans Condensed", "DejaVu Sans", "Liberation Sans", sans-serif' font-size="9.4" fill="#000" textLength="55.0" lengthAdjust="spacingAndGlyphs" stroke="#000" stroke-width="0.18" >24 Sep 16:00</text><polygon points="1466,26 1475,26 1470.5,31" fill="#c0c0c0" shape-rendering="crispEdges"/><g shape-rendering="crispEdges"><rect x="1700" y="22" width="1" height="921" fill="#e3e3e3"/></g>
<defs><linearGradient id="rg" x1="0" y1="45" x2="0" y2="102" gradientUnits="userSpaceOnUse"><stop offset="0" stop-color="#f65656"/><stop offset="0.45" stop-color="#d42424"/><stop offset="1" stop-color="#b40000"/></linearGradient><linearGradient id="bg" x1="0" y1="0" x2="0" y2="1"><stop offset="0" stop-color="#f6f6f6"/><stop offset="0.5" stop-color="#e6e6e6"/><stop offset="0.55" stop-color="#d8d8d8"/><stop offset="1" stop-color="#d0d0d0"/></linearGradient></defs><rect x="0" y="44" width="219" height="59" fill="#fff"/><path d="M0 45.5 H50.5 V69.5 H107.5 V101.5 H0" fill="url(#rg)" stroke="#a00000" stroke-width="1"/><path d="M217.5 45.5 H165.5 V69.5 H110.5 V101.5 H217.5 Z" fill="url(#rg)" stroke="#a00000" stroke-width="1"/><rect x="3" y="68" width="44" height="1" fill="#8a0000"/><rect x="3" y="69" width="44" height="1" fill="#f07a7a"/><rect x="170" y="68" width="44" height="1" fill="#8a0000"/><rect x="170" y="69" width="44" height="1" fill="#f07a7a"/><rect x="53.5" y="45.5" width="110" height="21" fill="#fff" stroke="#a8a8b0"/><rect x="54.5" y="46.5" width="19" height="19" fill="url(#bg)" stroke="#c4c4c8"/><rect x="143.5" y="46.5" width="19" height="19" fill="url(#bg)" stroke="#c4c4c8"/><rect x="74" y="46" width="1" height="20" fill="#a8a8b0"/><rect x="142" y="46" width="1" height="20" fill="#a8a8b0"/><polygon points="61,54 66,54 63.5,57" fill="#4a5fc8"/><polygon points="150,57 155,57 152.5,54" fill="#4a5fc8"/><text x="115.8" y="59.8" font-family='"DejaVu Sans Condensed", "DejaVu Sans", "Liberation Sans", sans-serif' font-size="12" fill="#000" textLength="22.8" lengthAdjust="spacingAndGlyphs">1.00</text><text x="11.8" y="61.2" font-family='"DejaVu Sans Condensed", "DejaVu Sans", "Liberation Sans", sans-serif' font-size="12.5" fill="#fff" textLength="25" lengthAdjust="spacingAndGlyphs">SELL</text><text x="179.8" y="61.2" font-family='"DejaVu Sans Condensed", "DejaVu Sans", "Liberation Sans", sans-serif' font-size="12.5" fill="#fff" textLength="23" lengthAdjust="spacingAndGlyphs">BUY</text><text x="19.3" y="96.6" font-family='"DejaVu Sans Condensed", "DejaVu Sans", "Liberation Sans", sans-serif' font-size="12" font-weight="bold" fill="#fff" textLength="23.5" lengthAdjust="spacingAndGlyphs">1.36</text><text x="129" y="96.6" font-family='"DejaVu Sans Condensed", "DejaVu Sans", "Liberation Sans", sans-serif' font-size="12" font-weight="bold" fill="#fff" textLength="23.8" lengthAdjust="spacingAndGlyphs">1.36</text><text x="47.5" y="96.6" font-family='"DejaVu Sans Condensed", "DejaVu Sans", "Liberation Sans", sans-serif' font-size="32.5" fill="#fff" textLength="33.5" lengthAdjust="spacingAndGlyphs">59</text><text x="157.8" y="96.6" font-family='"DejaVu Sans Condensed", "DejaVu Sans", "Liberation Sans", sans-serif' font-size="32.5" fill="#fff" textLength="34" lengthAdjust="spacingAndGlyphs">61</text><text x="85.8" y="80.8" font-family='"DejaVu Sans Condensed", "DejaVu Sans", "Liberation Sans", sans-serif' font-size="12" font-weight="bold" fill="#fff" textLength="7" lengthAdjust="spacingAndGlyphs">6</text><text x="196.8" y="80.8" font-family='"DejaVu Sans Condensed", "DejaVu Sans", "Liberation Sans", sans-serif' font-size="12" font-weight="bold" fill="#fff" textLength="7" lengthAdjust="spacingAndGlyphs">6</text>
</svg>
</body></html>
